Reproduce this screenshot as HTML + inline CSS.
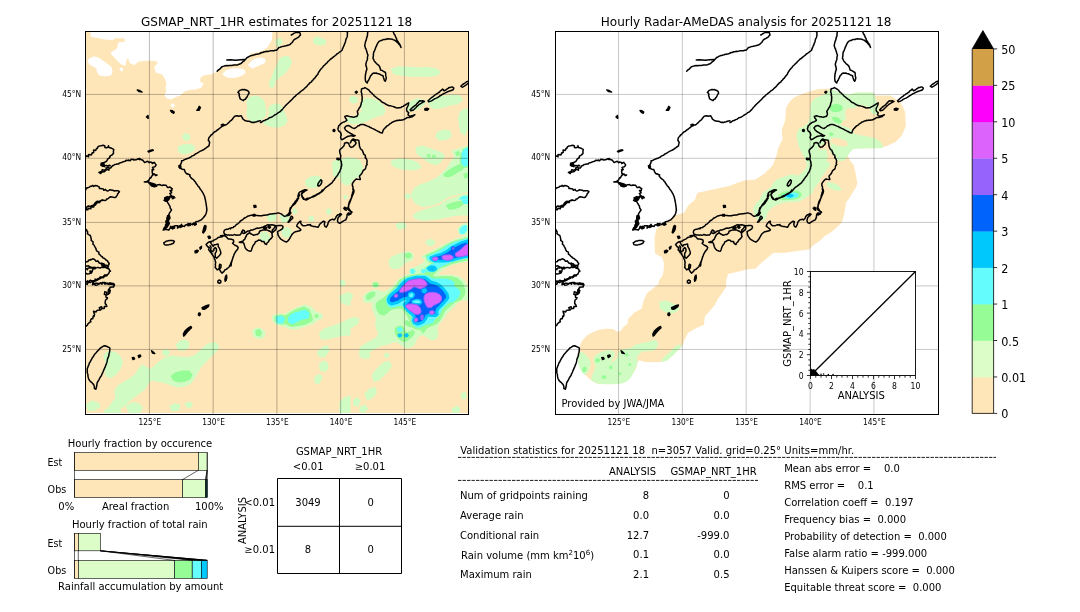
<!DOCTYPE html>
<html lang="en"><head><meta charset="utf-8"><title>GSMAP_NRT_1HR validation 20251121 18</title>
<style>html,body{margin:0;padding:0;background:#fff;}body{width:1080px;height:612px;overflow:hidden;}svg{display:block;font-family:'DejaVu Sans', 'Liberation Sans', sans-serif;fill:#000;}.cl{fill:none;stroke:#000;stroke-width:1.5;stroke-linejoin:round;stroke-linecap:round;}.cf{fill:#000;stroke:#000;stroke-width:1.3;stroke-linejoin:round;}.gl{stroke:#000;stroke-opacity:.28;stroke-width:1;fill:none;}.glr{stroke:#000;stroke-opacity:.22;stroke-width:1;fill:none;}.fr{fill:none;stroke:#000;stroke-width:1;}.th{fill:none;stroke:#000;stroke-width:.6;}</style></head><body>
<svg width="1080" height="612" viewBox="0 0 1080 612">
<rect width="1080" height="612" fill="#fff"/>
<defs>
<clipPath id="cr"><rect x="555.5" y="31.5" width="383.00" height="383.00"/></clipPath>
<clipPath id="cl"><rect x="85.5" y="31.5" width="383.00" height="383.00"/></clipPath>
<g id="coast"><path class="cl" d="M617.5 115.5L616.0 117.0L617.7 118.3ZM686.7 71.2L687.8 70.0L689.2 69.2L690.1 68.1L690.8 67.4L691.7 66.7L692.6 66.4L693.7 66.1L695.0 65.8L696.1 65.6L697.5 65.8L698.6 65.5L700.0 65.5L701.2 65.6L702.3 65.3L703.5 65.1L704.6 65.1L705.4 64.9L706.7 65.0L707.6 64.7L708.6 64.2L709.9 63.7L710.8 63.3L711.7 62.4L712.3 61.7L713.4 61.1L714.2 60.3L714.9 59.4L715.8 58.4L716.7 57.5L717.9 57.0L718.8 56.4L720.0 55.8L721.4 55.6L722.9 55.0L724.2 54.7L725.5 54.2L726.5 54.2L727.5 53.9L728.6 53.7L730.0 53.3M696.3 60.0L700.0 59.7L705.0 60.3L710.0 59.7L714.2 59.5M708.6 90.9L709.9 90.1L711.0 89.8L712.0 89.5L713.4 89.8L714.1 89.5L715.3 90.0L717.3 90.8L718.2 91.5L718.6 93.2L717.7 94.4L717.2 95.5L716.3 97.3L715.5 98.1L714.8 99.3L713.6 99.6L713.0 100.7L712.0 100.1L710.1 99.1L709.4 98.4L709.1 96.7L708.6 95.6L708.9 94.7L708.6 93.4L707.4 92.4ZM690.8 125.0L692.5 124.2L693.7 124.6L695.0 125.0L696.4 124.3L697.5 123.3L698.3 122.6L699.2 121.5L700.0 120.8L701.0 120.1L701.8 119.3L702.5 118.3L703.3 117.3L704.2 116.3L705.2 116.1L706.7 115.8L708.3 116.3L709.4 115.9L710.8 115.8L711.3 116.8L711.9 117.9L712.5 119.2L713.5 119.8L715.0 120.8L715.9 120.9L717.0 121.3L718.3 121.3L719.5 121.6L720.4 122.0L721.7 122.5L722.7 122.2L724.0 122.4L725.0 122.0L726.2 121.7L727.3 121.2L728.7 121.0L730.0 120.8M730.0 53.0L731.4 52.5L732.3 52.5L733.8 51.8L735.0 51.7L736.3 51.3L737.5 51.5L738.9 51.1L740.0 50.8L741.1 50.7L742.2 50.8L743.5 50.7L744.6 50.3L745.8 50.3L746.8 49.6L747.7 48.6L748.3 47.5L749.7 47.3L750.7 46.9L752.0 46.4L753.3 46.3L754.4 45.9L755.7 45.8L757.3 45.3L758.3 45.0L759.6 44.4L760.8 43.3L761.7 42.5L762.4 41.3L763.2 40.1L764.2 39.2L765.3 38.8L766.5 38.0L767.5 37.5L768.4 36.8L769.0 35.9L770.0 35.0L769.8 33.9L769.2 32.5L768.2 32.4L766.8 32.4L765.8 32.2L764.5 32.9L763.3 33.3L762.3 34.1L760.8 35.0M730.0 122.5L731.0 122.2L732.1 121.4L732.8 120.8L734.2 120.6L735.0 120.0L735.8 119.6L737.2 119.1L737.9 118.5L738.8 117.8L740.0 117.5L741.2 117.0L742.0 116.6L742.9 116.0L744.0 115.2L744.8 114.6L745.8 114.2L746.8 113.5L747.8 112.7L748.8 112.2L750.0 111.3L750.8 110.4L751.7 109.6L752.5 108.6L753.3 107.5L754.2 106.7L755.0 105.6L755.8 104.9L756.4 104.3L757.5 103.3L758.2 102.5L759.3 101.7L759.9 100.8L760.9 100.1L761.7 99.2L762.3 98.4L763.2 97.4L764.3 96.7L765.0 95.9L765.8 95.0L767.1 94.1L768.0 93.3L769.0 92.6L770.0 91.7L771.0 90.8L772.1 90.2L773.2 89.3L774.2 88.3L775.2 87.4L775.9 86.9L776.8 85.7L777.3 85.0L778.3 84.2L779.0 83.2L779.8 82.6L781.0 81.8L781.5 80.9L782.5 80.0L783.4 78.8L784.3 78.2L784.9 77.2L785.8 76.0L786.7 75.0L787.5 74.1L787.8 72.9L788.5 71.8L789.2 70.8L789.9 69.7L790.9 68.5L791.7 67.7L792.5 66.7L793.1 65.8L794.2 65.0L794.8 64.4L795.8 63.3L796.8 62.7L797.3 61.6L798.1 61.0L799.2 60.0L800.1 59.0L801.2 58.5L802.4 57.4L803.3 56.7L804.2 56.0L805.4 55.1L806.3 54.0L807.5 53.3L808.6 52.5L809.4 51.9L810.7 51.0L811.7 50.0L811.9 49.1L812.3 48.1L812.9 46.8L813.3 45.8L813.8 45.0L814.1 43.6L814.6 42.6L815.0 41.7L815.2 40.3L815.6 39.0L816.2 37.8L816.7 36.7L816.9 35.2L816.9 33.7L817.0 32.5L815.8 31.3M837.5 31.3L837.2 32.5L837.0 33.8L837.0 35.4L836.7 36.7L836.1 37.9L836.0 39.0L835.6 40.4L835.0 41.7L834.7 43.2L834.4 44.4L834.2 45.8L834.7 47.1L834.9 48.1L835.5 49.0L835.8 50.0L836.2 51.2L836.5 52.3L836.9 53.9L837.5 55.0L837.2 56.1L836.9 57.7L837.0 58.8L836.7 60.0L836.1 61.3L835.7 62.8L835.3 64.2L835.5 65.5L835.9 67.1L836.3 68.3L836.3 69.6L835.7 71.0L835.5 72.0L835.3 73.3L834.9 74.7L834.9 76.1L834.7 77.5L834.8 78.9L834.9 80.2L835.3 81.7L836.7 83.0L837.0 82.0L837.6 80.8L838.3 80.0L838.7 78.8L839.2 77.9L839.7 76.9L840.0 75.8L840.9 75.2L841.6 74.1L842.5 73.3L843.8 73.1L844.8 73.2L845.8 73.0L846.7 73.5L848.2 73.8L849.2 74.2L850.4 74.9L851.2 75.3L852.5 75.8L852.9 77.4L853.4 78.8L853.7 80.0L854.7 81.3L855.1 80.4L855.5 79.2L855.8 78.0L855.5 76.7L855.3 75.7L855.2 74.8L855.2 73.7L855.0 72.5L854.1 72.0L853.0 71.3L851.5 70.4L850.0 70.0L849.9 69.0L849.4 67.8L849.2 66.7L848.4 65.6L847.6 64.9L846.7 64.2L845.6 63.2L845.1 62.4L844.2 61.7L843.7 60.8L843.1 59.4L842.5 58.3L842.6 57.2L842.9 55.9L842.9 54.4L843.0 53.3L843.3 52.0L844.1 50.7L844.5 49.4L845.0 48.3L845.2 47.2L845.9 46.3L846.3 45.1L846.7 44.2L847.3 43.2L848.0 42.1L848.7 41.3L850.1 40.6L851.4 40.4L852.5 39.7L853.5 39.4L855.1 39.5L856.2 38.9L857.5 38.8L858.8 39.1L860.2 39.1L861.7 39.2L862.6 39.7L864.1 40.1L865.0 40.8L866.0 41.6L866.8 42.4L867.5 43.0L868.5 44.3L869.7 45.3L870.1 46.2L870.5 47.5L869.9 46.2L869.7 45.0L868.9 43.8L868.1 42.7L867.5 41.7L866.9 40.8L866.2 39.7L866.0 38.4L865.3 37.5L865.0 36.6L864.5 35.3L863.8 34.3L863.3 33.3L862.5 31.3M834.4 87.6L835.8 88.4L836.7 89.0L837.9 89.7L838.7 90.4L839.5 91.6L840.4 92.5L841.4 93.2L842.1 94.0L843.1 94.8L843.9 96.0L844.9 96.7L845.9 97.5L846.7 98.2L847.7 98.8L848.3 99.4L849.3 99.9L850.2 100.8L851.0 101.6L851.8 102.2L852.9 102.7L854.3 103.4L855.3 104.3L856.4 104.7L857.5 105.3L858.8 105.7L860.1 105.8L861.1 106.1L862.2 106.4L863.4 106.8L864.4 107.2L865.7 107.8L866.7 108.0L868.0 107.7L869.2 107.8L870.5 107.5L871.5 106.7L872.6 106.4L873.9 105.4L875.4 104.7L876.3 103.9L877.2 103.4L878.2 102.9L877.9 104.5L877.5 105.7L876.9 107.0L876.1 108.5L876.2 109.9L876.4 111.2L877.2 111.9L878.2 112.6L877.5 114.7L878.3 115.5L879.6 116.4L881.2 115.7L882.4 115.4L884.4 114.7L883.5 115.5L882.8 116.0L881.7 116.8L880.2 117.0L878.9 117.5L877.5 117.6L876.1 117.8L875.4 118.5L874.4 118.8L873.3 119.6L872.0 119.9L871.2 120.0L869.9 120.3L868.7 120.1L867.5 120.5L866.4 120.3L865.4 120.9L864.3 121.1L862.9 121.7L861.6 122.2L860.6 123.1L859.4 123.8L858.7 124.5L857.7 125.3L856.7 125.8L855.6 126.9L854.6 127.9L853.5 129.1L852.8 130.0L852.2 131.7L851.8 133.1L849.7 132.5L848.6 131.8L847.2 131.2L846.2 130.7L845.2 130.2L843.8 129.3L842.8 128.9L841.6 128.4L840.4 127.7L839.3 127.2L838.2 126.5L836.9 126.1L835.8 125.6L834.9 125.2L833.7 124.8L832.4 124.4L830.9 124.5L829.6 124.7L828.9 125.4L827.6 125.7L826.8 126.5L825.9 127.3L824.9 127.8L824.0 128.6L821.9 127.9L821.0 127.4L819.9 126.5L818.7 125.8L817.8 125.6L815.7 126.1L814.7 127.0L813.9 127.9L814.5 128.8L815.0 130.0L816.2 130.9L817.1 131.7L818.0 132.1L819.1 132.8L819.9 133.5L821.4 134.0L822.6 134.9L824.7 135.6L823.1 136.2L821.7 136.0L820.6 135.6L819.1 136.1L817.8 136.2L816.4 136.8L815.0 137.6L813.8 138.3L812.9 139.0L811.1 139.7L810.7 138.9L810.1 137.6L810.3 136.2L810.8 134.9L810.4 133.9L810.1 132.5L809.1 131.6L808.3 131.1L807.7 129.8L807.4 128.6L807.9 127.4L808.1 125.8L809.2 125.0L810.1 123.8L811.4 123.0L812.2 122.4L814.3 121.7L815.2 121.2L816.4 120.3L815.8 119.0L815.0 118.2L814.3 116.4L816.4 115.8L817.6 116.1L818.6 116.4L819.9 116.8L820.9 116.7L822.1 117.0L823.3 117.2L825.1 116.6L826.4 116.4L827.1 115.1L827.5 114.0L827.1 112.8L826.8 111.2L827.6 110.2L828.2 109.2L828.7 108.1L829.6 107.1L830.0 105.9L830.6 104.3L830.8 102.9L831.4 101.5L831.7 100.2L831.5 99.4L831.7 98.1L831.7 96.7L831.3 95.5L831.4 94.6L831.2 93.1L830.6 91.8L830.9 90.6L831.0 89.0L832.1 88.5L833.5 88.2ZM879.6 109.9L880.5 108.9L881.7 107.8L882.5 107.0L883.3 106.5L884.4 105.7L885.6 104.8L886.5 103.6L887.2 102.9L888.1 101.9L889.3 100.8L890.9 101.0L892.1 100.8L893.9 101.5L892.6 102.1L891.4 102.9L890.1 103.6L888.9 104.3L887.9 105.2L886.5 106.4L885.6 107.5L884.4 108.5L883.5 109.5L882.4 110.3L880.3 110.8ZM897.6 100.8L898.7 99.7L899.7 98.8L900.6 98.0L901.7 97.2L902.5 96.7L903.3 96.1L904.2 95.1L905.3 94.6L906.0 93.9L907.1 93.4L908.1 92.5L909.2 92.0L909.8 90.9L910.8 90.4L912.2 89.0L912.7 89.9L913.6 90.8L914.7 90.3L915.7 89.7L916.5 89.0L917.6 88.4L918.5 87.6L920.0 87.4L921.2 86.9L922.4 87.3L923.3 88.1L922.6 89.7L921.4 90.2L919.9 90.8L918.5 91.3L917.1 91.8L915.8 92.4L914.3 93.2L912.8 93.8L911.5 94.6L910.4 95.4L909.7 95.7L908.8 96.4L907.3 97.4L906.0 98.1L904.6 98.6L903.2 99.4L901.9 100.3L900.4 101.1L899.6 101.4L898.3 101.9ZM930.3 86.2L931.3 85.3L932.4 84.2L933.9 83.5L935.1 82.5L936.3 81.7L937.9 81.1L939.3 82.1L938.2 82.6L937.7 83.5L936.5 84.2L935.8 84.8L934.8 85.5L933.8 86.2L932.6 86.9L931.7 87.2ZM814.0 143.2L813.9 144.4L813.3 146.0L812.3 147.1L811.2 148.1L810.1 149.0L809.2 150.1L809.1 151.4L809.4 152.9L809.8 154.3L810.3 155.7L810.1 157.0L809.9 158.5L810.0 159.8L810.6 161.2L810.9 162.3L810.9 163.4L811.2 164.7L811.1 165.9L810.6 166.9L810.6 168.2L810.0 169.4L809.7 170.3L809.2 171.7L808.3 172.9L807.7 173.9L807.1 175.1L806.3 176.3L805.6 177.0L805.0 177.9L804.2 178.8L803.8 180.0L802.9 180.7L802.2 181.6L801.5 182.8L800.7 183.3L799.5 184.3L798.8 184.9L797.8 185.7L796.9 186.4L796.0 186.9L795.0 187.7L793.9 188.8L793.2 189.7L792.2 190.9L791.1 191.8L790.0 192.6L789.2 193.2L788.3 193.9L786.8 194.5L785.6 195.3L784.2 196.2L782.8 196.7L781.2 197.2L780.0 197.8L778.7 198.3L777.2 198.3L776.0 198.7L775.1 199.4L773.1 199.2L772.6 198.5L771.7 197.4L771.3 195.8L771.0 194.6L771.9 193.5L772.4 192.5L773.6 191.9L774.4 191.1L775.6 190.4L776.5 190.0L774.4 189.7L773.2 190.2L771.7 190.8L770.6 191.5L769.6 191.8L768.2 193.2L768.9 195.3L768.3 196.5L767.5 198.1L766.7 198.9L766.1 199.9L765.4 200.8L764.6 201.6L764.1 202.9L763.3 203.6L762.4 204.6L762.1 205.3L761.2 206.4L760.7 207.6L759.9 209.2L759.6 210.6L759.2 211.9L758.5 212.9L757.8 214.0L756.4 215.0M787.6 183.5L788.3 182.5L789.0 181.4L790.4 179.7L791.4 180.7L791.1 182.8L790.5 183.9L790.0 184.9L788.3 186.2L787.2 185.6ZM814.0 143.2L816.1 142.5L818.2 143.2L818.5 144.3L818.9 145.6L819.5 146.5L820.6 147.4L822.6 146.7L823.5 145.7L824.4 145.0L825.1 144.0L825.6 142.8L824.2 141.1L823.0 140.4L821.9 140.0L820.6 141.1L820.0 142.8L820.5 141.4L821.0 140.4L821.7 139.7L822.8 139.0L824.0 139.5L825.6 140.0L826.9 140.0L828.3 140.4L828.5 141.6L828.6 143.2L828.9 144.7L828.9 146.0L829.4 147.2L830.0 148.8L830.7 149.6L831.8 150.2L832.4 152.0L832.9 152.8L833.0 153.9L833.9 154.8L834.7 155.1L835.0 157.1L834.7 157.6L835.8 158.6L836.3 159.9L836.6 160.9L836.4 162.8L836.2 163.3L836.7 164.5L835.6 165.8L835.2 167.9L834.9 168.9L833.6 169.9L832.6 170.7L832.2 171.5L831.6 173.0L830.4 174.5L829.2 175.8L829.0 176.4L829.4 177.7L829.8 179.4L827.1 179.2L826.1 179.0L825.4 179.3L824.4 180.2L823.2 181.6L822.6 182.5L821.9 183.5L821.9 184.1L821.8 185.4L822.5 186.9L822.5 188.5L822.3 189.0L822.8 190.4L822.6 191.4L822.0 192.7L821.9 193.9L821.4 195.0L821.2 196.2L821.0 197.4L820.7 198.4L820.4 199.7L820.0 200.8L819.3 202.4L818.9 203.6L818.2 204.8L817.8 206.4L817.3 207.8L817.2 209.2L818.9 210.6L820.1 211.4L821.0 211.9L820.3 214.0L819.2 214.4L818.2 215.0M776.5 190.0L774.9 190.8L773.6 191.4L772.6 192.0L771.5 192.8L770.8 194.9L771.6 195.9L772.2 196.9L773.1 198.1L773.6 199.0L774.5 199.7L775.7 200.0L776.5 199.5L777.8 199.0L778.8 198.2L779.9 197.6L781.1 197.1L782.6 196.2L783.8 195.6L785.4 194.9L787.0 194.0L788.2 193.5L789.1 192.8L790.3 192.1L791.0 191.1L791.7 190.0M768.2 193.2L767.9 194.6L767.4 196.2L768.1 198.3L767.1 199.6L766.4 201.1L765.4 202.2L765.0 203.1L764.2 203.9L762.8 205.1L761.8 206.0L760.9 207.0L759.7 208.1L759.5 209.4L759.0 210.8L759.6 211.7L760.4 212.9L759.6 213.8L759.0 215.0L757.6 215.5L756.2 215.7L754.2 216.4L753.2 215.8L752.1 215.0L751.1 214.2L750.0 213.6L747.9 212.9L746.8 213.1L745.7 213.4L744.4 213.6L743.2 213.8L742.3 213.7L741.0 213.9L740.0 214.0L738.6 214.3L737.5 214.7L736.4 215.1L735.3 215.0L734.0 215.3L733.0 215.3L731.6 215.7L730.6 215.7L729.5 215.7L728.3 215.7L727.1 215.4L725.9 215.4L724.9 215.3L723.6 215.0L722.2 215.2L720.8 215.3L719.7 215.5L718.4 215.9L717.4 216.1L715.8 217.1L714.6 217.8L713.5 218.3L712.6 219.4L711.8 219.9L710.8 220.5L709.7 221.2L709.0 222.2L708.2 223.0L707.3 223.8L705.9 224.5L705.2 225.4L704.7 226.1L703.1 226.7L702.7 227.6L700.8 227.8L700.0 228.9M823.2 189.5L823.5 191.3L823.2 192.5L822.9 193.5L822.5 194.5L821.8 195.6L821.5 196.9L821.0 198.0L820.2 199.2L819.7 200.4L819.0 201.5L818.7 202.8L818.3 203.9L818.1 205.0L818.2 206.2L817.8 207.4L818.6 208.8L819.2 210.1L820.1 211.1L821.5 212.2L820.1 213.3L818.1 212.9L816.7 214.3L816.5 215.8L816.4 217.1L815.8 218.6L815.3 219.9L814.3 220.2L813.2 220.8L812.3 221.3L811.1 222.2L809.4 223.3L807.6 222.6L806.9 220.6L807.4 219.0L807.6 217.8L808.5 216.6L809.7 215.7L811.1 214.3L809.7 213.6L808.8 214.4L807.6 214.7L806.5 215.6L805.8 216.4L805.3 217.6L804.9 218.5L803.5 219.9L802.1 219.2L800.0 219.9L798.8 220.9L797.9 221.9L797.5 223.5L797.2 224.7L796.4 226.2L795.8 227.2L794.4 226.4L794.0 225.1L793.8 224.0L794.2 222.8L794.4 221.7L793.1 221.2L791.8 222.0L791.0 222.6L789.7 223.8L788.9 224.7L788.3 226.1L787.5 227.2L785.4 226.8L784.1 226.5L782.6 226.4L781.3 225.9L780.0 225.6M700.4 228.0L699.1 228.3L697.5 229.2L696.1 229.3L695.0 229.6L693.8 230.4L693.3 232.1L693.8 233.8L695.0 234.6L696.7 235.0L698.1 234.9L699.1 235.2L700.2 234.9L701.7 235.2L703.1 234.9L704.0 234.4L705.1 235.1L706.8 235.2L707.6 234.9L709.4 234.9L710.5 233.7L711.6 231.4L712.2 230.0L713.9 230.7L713.9 231.8L714.8 232.8L716.7 231.4L717.6 231.0L719.2 231.0L719.4 230.8L720.5 229.9L722.5 229.9L723.5 229.3L724.3 229.2L725.5 228.5L727.0 228.0L728.2 228.4L729.8 227.8L731.0 227.5L731.6 227.2L732.8 226.9L734.3 226.1L735.1 225.9L737.0 224.8L739.4 224.9L741.5 224.8L743.7 225.2L745.1 225.8L746.5 225.8L748.8 225.4L750.8 225.4L752.3 226.2L752.5 227.5L751.7 228.8L750.2 229.8L748.8 230.7L747.1 231.6L747.3 233.5L747.6 235.2L748.8 237.1L750.0 238.8L751.7 240.0L752.7 240.6L753.8 241.2L754.8 241.6L755.8 242.1L757.5 240.8L758.8 239.2L759.8 237.5L760.8 235.7L761.8 234.0L763.3 232.7L765.0 231.7L767.1 231.2L769.2 230.8L770.4 230.0L769.6 228.8L767.9 227.5L766.2 226.2L766.7 224.6L767.9 222.9L769.2 221.5L770.4 221.2L770.0 222.9L771.2 224.6L772.5 225.8L774.2 225.7L775.8 225.4L777.5 224.8L778.8 224.9L780.0 224.6M744.3 226.8L745.9 227.4L745.4 229.6L743.8 230.9L742.4 232.3L741.9 231.7L741.7 230.1L743.4 228.5ZM711.2 231.7L711.8 232.9L713.3 233.5L714.8 232.9M732.1 227.5L733.3 228.3L735.0 228.8L736.2 227.9L735.4 227.1L733.8 226.8ZM737.5 226.7L739.2 226.2L740.0 227.5L738.8 228.3ZM708.8 242.2L711.1 241.5L712.4 241.2L713.1 240.2L714.1 239.4L714.5 238.6L715.3 236.7L715.8 236.0L716.2 234.9L717.8 233.7L719.0 232.5L720.2 233.7L722.1 234.6L723.1 235.3L725.3 234.6L726.7 234.6L728.6 233.0L729.1 231.3L730.2 230.8L732.0 230.1L734.0 230.1L735.8 229.8L736.9 230.1L738.2 230.7L739.9 231.5L740.7 232.3L741.6 233.5L741.6 235.6L742.1 236.6L741.1 237.9L739.9 239.1L738.9 239.9L737.9 241.8L736.1 243.5L736.0 244.6L734.3 243.6L733.5 241.6L731.2 241.4L730.1 240.2L728.0 240.1L726.4 241.2L724.9 241.8L724.1 243.8L722.6 245.4L722.1 246.7L721.5 248.3L721.0 250.0L720.4 251.2L718.8 251.0L717.1 250.4L715.8 249.3L714.8 247.9L714.2 246.2L713.8 244.8L713.3 243.3L712.3 242.4L710.1 242.5ZM690.0 235.7L692.1 235.4L694.2 235.8L695.8 236.8L697.1 238.3L698.1 239.1L699.2 239.0L701.0 239.3L702.9 240.0L703.3 241.8L702.1 243.3L703.4 244.5L704.6 245.3L706.7 246.2L707.7 247.5L707.1 249.2L705.8 250.8L704.6 252.5L704.0 253.6L703.5 254.6L703.2 255.8L702.7 256.7L702.1 258.8L701.5 260.8L701.1 262.0L700.8 263.3L700.8 264.5L700.4 266.0M757.5 222.1L758.8 220.4L759.4 219.4L759.8 218.3L760.1 217.3L760.8 216.2L761.8 216.7L762.3 217.9L761.2 219.2L760.0 220.2L759.0 221.7L757.9 222.3ZM694.3 235.1L692.9 235.8L691.7 236.7L689.9 237.1L688.8 237.2L687.8 237.4L686.2 238.8L684.4 239.7L683.4 240.0L682.5 241.0L681.1 241.3L680.3 242.1L678.7 241.8L677.1 242.9L675.6 244.6L677.2 246.8L678.3 247.3L678.8 247.4L678.1 249.8L679.9 251.7L679.9 252.6L681.6 253.2L681.3 254.0L681.9 254.9L683.7 257.5L683.9 258.9L684.7 259.9L684.7 261.1L685.2 262.3L685.0 263.3L684.8 264.9L685.1 265.9L684.6 267.2L686.7 269.9L688.2 269.0L688.8 268.1L688.8 266.1L689.2 264.2L690.6 264.9L690.3 267.6L689.3 268.6L688.9 269.4L690.5 272.0L691.5 273.1L692.9 271.9L693.8 270.9L694.3 269.9L696.1 269.2L696.9 268.3L698.1 267.5L698.8 266.6L699.4 265.3L700.1 264.2L700.3 263.1L700.8 262.2L701.5 260.6L701.9 259.2M680.0 241.5L680.5 243.3L681.4 244.7L682.7 246.3L683.8 244.8L685.5 244.6L687.6 244.1L687.8 246.6L688.8 248.1L689.0 248.5L689.6 250.3L690.1 251.6L690.3 253.8L690.3 253.6L688.9 255.5L688.2 256.2L686.2 258.3L684.9 257.1L684.6 254.1L685.1 252.6L685.8 251.7L686.0 250.8L685.8 248.5L684.7 247.5L683.1 249.4L683.4 250.5L682.6 251.1L680.6 251.4L680.2 249.4L680.6 247.3L679.7 245.8M633.2 242.8L634.4 242.2L635.3 241.4L636.5 241.0L637.6 240.9L638.8 240.4L639.9 240.5L641.1 240.6L642.2 240.4L643.9 241.4L642.9 243.2L641.7 243.7L640.1 244.4L638.8 244.6L637.8 244.9L636.7 245.1L635.4 245.0L633.9 244.6ZM688.8 280.0L690.3 280.8L690.3 282.5L688.8 283.3L687.4 282.5L687.4 280.8ZM637.1 215.7L638.0 217.2L636.8 217.3L636.7 219.8L635.7 221.4L635.3 221.1L636.1 224.0L634.9 225.0L636.0 225.1L634.8 227.2L633.8 227.6L632.7 230.1L635.2 229.2L635.1 229.5L637.9 229.7L638.2 230.1L639.6 228.2L639.7 227.7L640.2 226.2L640.9 228.1L641.9 228.7L643.4 227.5L644.3 225.8L647.4 225.8L647.0 228.1L649.8 226.1L650.3 225.8L651.1 224.4L651.0 225.8L654.1 226.4L654.9 224.9L656.2 224.7L657.5 224.8L658.2 224.6L657.7 223.5L658.3 224.7L659.4 223.5L661.8 224.7L663.1 223.3L664.4 225.0L665.8 224.4L665.5 223.4L665.1 221.9L666.7 221.4L667.9 221.2L669.3 220.5L670.7 219.9L671.6 219.0L672.8 217.8L673.4 216.9L674.2 216.1L674.9 215.0M554.2 157.2L555.5 156.6L556.2 155.8L558.1 156.8L557.9 154.8L558.8 154.6L560.9 154.9L561.7 152.7L562.5 152.9L563.2 152.4L563.1 150.1L565.2 150.5L566.0 148.5L566.8 148.4L567.4 146.9L569.0 145.9L570.6 145.8L571.3 145.6L573.2 145.3L574.4 145.9L574.4 147.4L575.9 147.7L578.1 147.0L577.9 145.7L578.5 147.6L580.4 148.1L581.2 148.3L583.2 149.3L583.2 150.1L582.9 151.3L583.0 153.4L581.3 155.1L580.5 155.4L579.3 156.3L579.4 157.6L577.2 159.0L576.4 160.8L575.0 161.9L573.9 162.6L573.9 162.3L572.5 163.0L571.1 163.4L572.0 165.8L573.8 166.7L573.6 165.8L576.4 165.6L577.2 165.9L578.8 165.3L579.7 165.7L577.5 165.8L577.6 167.4L575.5 167.9L575.7 168.3L575.8 169.9L573.8 171.8L573.3 171.7L570.8 172.2L570.3 173.6L568.4 172.4L569.6 171.9L571.4 171.2L571.7 169.8L574.0 170.2L575.4 169.4L576.9 169.5L578.4 170.1L578.6 167.9L580.2 168.0L581.0 167.0L580.7 167.2L582.2 165.4L583.3 165.4L583.9 164.6L585.7 164.2L586.2 164.0L588.4 163.9L588.6 163.1L590.1 162.7L590.9 162.5L593.8 161.4L594.5 161.3L595.9 160.2L598.0 160.4L598.1 159.9L599.6 160.8L600.6 159.3L603.1 159.4L603.3 160.0L605.7 159.8L607.3 158.8L609.0 159.6L608.9 158.4L610.6 159.7L611.2 159.8L612.3 160.3L614.1 162.4L614.5 162.4L617.2 161.3L618.7 162.7L619.2 162.0L621.5 162.6L621.8 163.5L623.7 162.3L623.8 162.4L625.6 164.9L625.3 165.8L624.3 166.7L622.0 167.4L623.2 169.7L621.5 169.7L622.0 170.8L621.6 171.3L622.1 174.3L622.4 173.7L625.5 175.2L626.6 175.0L625.2 175.7L624.2 174.1L622.5 174.8L621.6 175.7L620.2 178.0L619.7 177.7L618.8 179.3L618.7 179.9L616.3 181.6L613.8 181.9L616.7 181.9L616.4 182.0L618.1 181.5L618.0 182.4L619.0 183.8L620.0 184.2L620.7 185.5L623.6 186.0L624.5 186.4L625.1 185.9L627.0 184.8L628.7 184.8L629.5 184.5L630.4 185.2L631.9 185.5L632.3 185.1L635.5 185.2L636.2 186.1L637.0 187.5L638.5 187.4L639.2 186.9L641.8 188.8L641.4 189.3L641.2 190.8L639.5 190.4L641.1 192.9L639.3 193.4L640.5 195.2L641.9 196.6L643.4 196.6L644.3 197.7L643.3 197.7L642.3 198.8L641.1 197.0L639.7 196.2L638.1 197.4L636.1 198.2L635.2 197.7L634.6 199.4L633.6 200.4L635.3 201.3L636.9 201.6L637.3 202.9L638.0 203.8L639.5 206.3L639.6 206.8L639.6 207.9L641.0 210.0M694.4 125.0L692.9 125.7L691.7 126.4L690.8 126.9L690.0 127.7L688.9 128.5L688.1 129.3L687.2 129.7L686.1 130.6L685.2 131.4L684.0 131.7L683.3 132.6L682.4 133.4L681.7 134.3L680.6 135.0L679.5 136.5L678.5 137.5L678.1 138.9L677.8 140.3L678.6 141.3L679.2 142.4L678.9 143.6L678.6 144.9L678.5 145.8L677.6 146.5L676.4 147.2L675.7 147.9L674.7 148.5L673.9 149.3L672.9 149.7L672.0 150.3L670.6 150.9L669.4 151.4L668.5 152.0L667.1 152.9L666.0 153.5L664.7 154.1L663.9 155.0L662.5 155.6L661.3 156.1L660.4 157.0L659.0 157.6L658.0 158.3L656.9 158.5L655.6 159.0L654.0 159.6L652.8 160.4L651.1 160.8L651.0 162.7L649.9 164.9L650.0 164.3L648.7 167.3L649.4 168.1L649.7 168.3L652.8 169.6L653.8 169.5L654.4 171.2L654.8 172.3L656.3 174.0L657.3 173.7L657.3 174.0L659.6 174.9L659.1 175.9L660.9 178.2L662.0 179.1L662.4 179.2L663.5 180.2L664.2 181.2L665.1 182.3L665.7 183.5L666.7 184.7L667.2 185.8L668.1 186.5L668.8 187.5L669.4 188.4L669.9 189.5L670.8 190.3L671.6 191.6L672.2 192.6L672.9 193.8L673.3 194.7L674.0 196.2L674.3 197.2L674.5 198.6L674.9 199.5L675.0 200.7L675.3 202.1L675.5 203.2L675.7 204.2L675.7 205.3L676.1 206.4L676.1 207.6L676.2 209.0L676.4 210.0M554.2 190.3L555.2 190.1L555.8 188.3L557.1 187.7L559.1 187.1L559.8 186.3L561.2 186.2L562.3 185.4L563.2 186.4L565.0 185.5L566.1 185.7L567.1 186.0L568.8 187.2L568.9 188.5L570.1 188.5L572.8 189.0L573.3 190.3L575.1 189.3L575.4 190.4L576.6 190.9L577.5 191.0L579.2 189.8L580.5 189.9L582.3 190.3L584.0 191.1L584.3 190.7L585.8 190.8L587.4 190.7L588.9 191.7L587.7 193.2L587.0 194.0L587.1 194.6L586.6 195.4L585.2 197.3L584.4 197.5L582.7 197.2L581.7 196.9L580.2 196.7L578.8 197.5L577.1 199.0L576.0 199.1L575.7 200.1L574.3 200.6L571.6 200.0L570.0 201.0L569.7 200.8L567.9 201.7L567.0 201.3L565.9 201.8L564.8 202.6L563.2 204.9L563.6 205.6L561.7 205.5L559.8 206.4L558.0 206.0L556.5 206.6L556.5 207.1L555.8 208.9L554.2 210.0M641.0 210.0L640.3 211.1L638.9 213.2L638.1 215.0M676.4 210.0L675.7 213.2L674.9 215.0M554.2 210.0L556.6 209.6L557.2 209.8L558.1 208.2L560.3 208.8L560.7 206.9L563.1 207.1L563.1 205.8L563.9 205.7L564.8 204.9L566.7 202.8L567.7 202.6L569.2 202.6L569.8 200.7L571.9 200.6L572.2 200.0M554.2 228.5L556.3 230.2L556.7 231.5L557.2 231.9L556.9 233.7L558.2 234.7L559.8 235.5L560.2 236.7L560.8 239.4L560.7 240.4L562.6 241.9L562.6 242.6L562.4 244.2L563.7 245.3L564.3 246.6L565.6 248.9L565.5 249.6L566.7 251.3L568.4 252.2L568.4 254.1L569.2 254.6L570.6 256.1L572.0 257.0L572.4 257.9L574.1 258.5L575.5 260.0L575.4 259.9L576.8 260.6L577.4 261.8L578.7 263.5L578.4 264.6L577.1 265.8L576.2 265.8L574.3 265.0L574.4 265.7L571.5 265.0L571.6 264.0L568.8 263.0L567.9 261.7L567.2 260.8L566.9 261.3L565.5 261.2L564.1 259.5L562.1 258.8L560.3 260.0L560.3 259.4L557.8 260.5L557.5 261.6L555.0 262.0L554.2 262.2M570.7 263.6L571.2 263.1L573.5 263.9L574.1 264.9L575.5 266.1L576.3 265.3L577.9 266.9L576.9 267.7L575.7 267.6L573.6 266.4L571.6 265.4L571.0 264.3ZM554.2 269.4L555.9 268.6L556.8 269.8L557.6 268.0L559.6 268.0L561.5 267.4L563.1 268.7L564.4 267.8L564.9 268.1L566.7 267.6L567.8 267.5L569.7 268.1L571.5 266.8L571.9 267.4L573.7 267.4L574.5 267.1L576.1 268.0L578.6 269.0L579.1 270.4L580.0 271.0L579.0 271.5L578.1 273.8L576.4 274.8L576.5 275.7L574.6 276.0L572.7 277.7L570.7 277.2L570.4 278.4L568.0 279.4L567.1 280.0L565.8 280.6L564.7 281.1L562.9 281.7L563.2 283.4L563.2 284.3L564.9 283.3L566.7 283.3L568.0 283.4L569.0 283.3L570.2 283.1L572.1 282.4L573.0 282.5L574.2 284.0L575.5 283.9L577.1 283.1L578.6 284.4L578.3 284.4L579.9 283.0L582.0 283.4L583.1 283.5L584.0 285.0M554.2 266.4L556.7 265.9L557.9 265.8L559.6 266.8L560.6 267.4L562.2 268.6L562.1 270.3L561.7 271.6L560.8 273.1L558.5 273.8L556.7 274.1L555.9 273.6L554.2 272.5M554.2 284.4L554.6 283.8L556.7 284.3L557.7 282.3L558.5 282.0L559.6 282.7L560.0 282.4L562.1 280.8L562.4 280.7L564.7 280.5L564.6 279.0L565.8 279.8L567.1 278.7L568.4 278.4L569.7 276.9L571.7 277.0L572.5 276.9L574.1 275.1L574.3 274.9L575.7 275.0M554.2 282.2L555.3 282.6L556.9 280.9L557.0 281.9L558.9 280.9L559.7 280.3L561.5 281.0L562.7 281.8L562.5 281.7L562.0 284.7L564.0 283.9L564.7 285.2L566.6 285.1L567.9 284.2L568.4 284.2L570.1 282.9L571.5 284.2L571.9 282.5L574.1 282.5L574.6 282.6L575.8 283.1L577.4 284.1L579.3 282.8L580.0 284.3L581.9 284.5L582.9 284.7L583.8 284.6L583.1 287.0L582.0 286.9L579.5 287.3L579.6 287.9L578.7 288.6L579.0 290.1L578.7 291.4L578.3 293.9L577.7 294.2L576.3 294.7L575.4 295.2L575.6 297.5L577.0 297.8L576.5 299.0L575.1 300.0L574.7 301.8L574.7 303.6L575.7 304.6L576.4 306.4L573.9 306.4L573.7 308.5L572.0 308.5L570.7 309.0L569.4 309.3L570.1 310.0L566.9 310.3L565.7 311.4L565.6 312.0L563.0 311.3L563.7 313.8L564.1 314.1L563.6 316.4L562.7 316.0L562.3 318.7L560.8 318.8L559.9 320.5L560.4 321.8L559.4 322.1L557.3 324.0L557.2 324.5L556.6 325.4L554.8 326.7L554.7 328.1L554.2 329.2M574.3 291.7L576.4 292.4L575.7 295.1L573.9 294.4ZM568.8 307.6L571.1 306.7L571.9 308.6L569.7 309.7ZM574.7 345.8L575.8 346.3L577.1 346.8L578.3 347.4L579.4 348.2L579.3 349.4L579.2 351.0L579.0 352.4L578.5 353.8L578.5 354.7L578.1 356.2L577.8 357.2L577.3 358.2L576.9 359.4L576.7 360.7L576.5 361.7L576.2 363.0L575.7 364.2L575.2 365.4L574.8 366.6L574.3 367.6L573.9 368.6L573.5 369.7L572.9 370.8L572.5 372.0L572.1 372.8L571.5 373.9L571.0 375.5L570.1 376.7L569.4 377.8L568.8 379.2L568.1 380.5L567.4 381.5L566.7 382.7L566.4 384.3L566.2 385.8L566.0 387.1L565.3 389.2L563.9 388.5L563.9 387.0L563.6 385.7L563.1 384.5L562.2 383.6L561.4 382.6L560.4 381.9L559.3 380.7L558.6 379.7L557.9 378.2L557.6 376.7L557.4 375.4L557.4 374.3L556.9 373.2L556.7 371.9L556.9 371.1L556.7 369.7L556.8 368.4L557.4 367.3L557.6 366.2L558.3 365.1L558.6 363.9L559.0 362.8L559.8 361.7L560.2 360.9L560.8 359.7L561.3 358.8L561.9 357.7L562.8 356.5L563.3 355.8L563.8 354.7L564.6 353.8L565.6 352.8L566.7 351.4L567.9 350.3L568.8 349.2L569.7 348.2L570.8 347.5L571.8 346.8L572.9 346.1Z"/><path class="cf" d="M606.7 90.0L609.2 90.5L611.7 92.0L608.7 91.7ZM640.0 110.5L642.0 110.7L643.8 112.0L643.3 113.3L641.3 112.3ZM668.7 106.3L670.0 107.5L668.7 110.3L666.2 110.3L667.8 108.3ZM803.5 129.3L804.6 130.3L803.9 131.7L802.5 131.1L802.5 130.0ZM825.8 91.1L826.9 92.1L825.8 93.2L824.7 92.2ZM894.2 108.9L896.2 108.2L898.3 108.9L896.9 110.3L894.4 110.1ZM806.4 158.2L808.5 158.5L809.4 159.4L807.8 160.0L806.4 159.4ZM813.1 208.1L815.0 208.6L815.8 210.3L814.2 209.7ZM722.6 214.4L724.6 214.4L724.6 216.1L722.6 216.1ZM723.3 205.3L725.3 205.3L725.6 207.2L723.6 207.5ZM814.2 207.2L816.1 208.2L815.1 209.6ZM673.5 226.8L674.4 225.4L675.6 226.1L675.3 228.9L674.2 231.4L672.8 233.1L672.1 232.4L672.8 229.6ZM677.4 236.5L679.4 236.2L680.0 237.9L678.3 238.6ZM664.4 251.1L666.5 250.0L667.9 250.8L666.5 252.5L664.7 252.8ZM669.3 247.6L671.1 246.2L670.8 248.3L669.7 249.4ZM695.0 276.1L696.1 275.0L696.4 277.5L695.7 280.3L694.7 281.4L694.3 279.6ZM633.9 228.2L635.6 224.7L636.7 227.2L635.0 228.9ZM640.8 227.2L642.9 226.1L644.3 227.8L642.2 228.9ZM648.5 226.1L650.8 225.0L652.2 226.4L649.9 227.5ZM656.4 224.4L658.9 223.6L660.0 225.3L657.5 225.8ZM662.4 223.6L664.7 222.6L665.8 224.4L663.8 225.0ZM570.6 163.2L572.9 162.8L573.9 165.0L571.9 166.1L570.3 165.3ZM617.4 151.4L619.4 150.4L622.2 149.7L622.9 150.3L620.1 151.4L618.1 152.1ZM619.4 182.6L622.2 183.3L625.0 184.4L626.4 186.1L623.6 186.9L620.8 185.8ZM634.0 197.9L636.8 196.5L639.6 197.5L638.2 200.0L635.4 200.7ZM648.3 165.6L650.0 165.3L650.6 167.2L648.9 167.8ZM636.8 216.7L638.9 215.3L639.6 218.1L637.8 220.8L638.9 223.6L637.2 226.4L635.0 228.5L633.3 229.4L635.0 227.1L635.8 223.6L636.4 220.1ZM563.2 267.1L564.9 267.4L564.6 268.8L563.2 268.5ZM559.4 270.8L561.1 271.1L560.8 272.5L559.4 272.2ZM577.8 289.6L579.9 290.3L579.2 293.1L577.5 293.8ZM671.5 307.6L673.6 306.7L676.4 305.3L678.5 304.9L677.8 306.7L675.7 308.3L673.6 309.4L671.9 309.0ZM668.1 313.2L669.4 312.8L670.0 314.6L668.9 315.8L667.8 315.0ZM652.8 334.0L654.2 331.2L656.2 329.2L658.3 327.5L660.4 326.4L661.1 327.8L659.4 329.4L657.6 331.2L655.8 333.3L654.2 335.4L653.1 336.1ZM621.1 350.7L622.9 352.1L624.3 353.5L621.9 353.1ZM607.6 355.6L609.7 354.9L610.4 356.2L608.3 357.6ZM601.7 357.6L603.5 357.4L604.2 359.0L602.5 359.7Z"/></g>
</defs>
<rect x="85.5" y="31.5" width="383.00" height="383.00" fill="#ffe6b9"/>
<rect x="555.5" y="31.5" width="383.00" height="383.00" fill="#fff"/>
<g clip-path="url(#cr)">
<path d="M790.0 102.2L794.2 98.1L803.9 93.9L817.8 89.7L830.3 89.4L831.0 90.0L836.0 92.0L842.0 95.0L848.0 97.0L853.0 94.0L856.7 93.2L873.3 93.2L874.7 96.0L890.0 96.0L899.7 102.2L904.6 112.0L905.3 125.8L901.1 135.6L895.6 141.1L887.2 145.3L880.3 147.4L852.5 148.0L847.0 155.0L849.0 160.0L853.3 165.6L855.6 176.7L856.7 183.0L855.6 186.7L852.2 192.2L848.9 197.8L845.6 202.2L844.4 208.9L843.3 215.6L841.1 222.2L835.6 227.8L830.0 232.2L824.4 235.6L820.0 240.0L813.3 244.4L808.9 248.9L795.6 250.7L784.4 252.2L773.3 252.2L767.8 256.7L761.1 262.2L755.6 267.8L746.7 268.9L737.8 271.1L727.8 273.3L725.6 280.0L725.6 286.7L722.2 292.2L717.8 297.8L714.4 304.4L708.9 311.1L704.4 316.0L703.3 324.4L695.6 327.8L687.8 332.2L683.9 339.4L682.5 344.3L679.7 347.8L675.6 351.9L671.4 356.1L667.2 359.6L661.7 361.4L653.3 361.7L645.0 361.4L639.4 359.6L636.7 361.7L636.4 365.8L634.6 370.0L631.8 374.2L628.3 378.3L624.2 381.1L618.6 383.2L611.7 383.6L604.7 383.6L597.8 383.2L592.2 380.4L588.1 376.9L584.6 373.5L581.8 368.6L579.7 363.1L578.6 357.5L579.0 352.6L580.4 347.8L581.1 343.6L583.9 339.4L588.1 335.3L593.6 332.5L599.2 330.4L606.1 329.4L613.1 329.7L617.2 332.5L621.4 331.1L624.2 326.9L627.8 324.4L628.9 318.9L634.4 313.3L642.2 308.9L644.4 300.0L647.8 293.3L653.3 288.9L658.9 284.4L660.0 280.0L663.3 275.6L664.4 268.9L664.4 262.2L662.2 256.7L655.6 253.3L655.1 237.8L656.7 230.0L662.2 224.4L668.9 221.1L676.7 215.6L684.4 213.3L688.9 205.6L695.6 200.0L697.8 193.3L713.3 190.0L728.9 186.7L737.8 183.3L744.4 181.1L755.6 180.0L764.4 174.4L773.3 165.6L776.7 156.7L778.9 147.8L783.3 138.9L782.2 130.0L785.6 121.1L786.7 107.8Z" fill="#ffe6b9" stroke="#ffe6b9" stroke-width="1.2" stroke-linejoin="round"/>
<path d="M811.7 103.1L815.8 98.2L825.6 94.7L830.4 89.9L835.3 91.2L842.2 93.3L847.8 95.4L853.3 94.0L856.1 93.1L872.8 93.1L874.2 96.1L876.9 103.1L878.3 105.8L877.6 110.7L875.6 114.2L872.1 112.8L870.0 108.6L867.2 105.8L861.7 104.4L857.5 105.8L853.3 107.9L847.8 107.2L845.0 110.0L844.3 114.2L845.7 118.3L842.2 121.1L839.4 124.6L842.2 126.7L847.8 128.1L851.9 130.8L853.3 133.6L858.9 135.7L867.2 137.1L875.6 139.2L881.1 143.3L882.5 147.5L853.3 148.2L847.8 153.1L846.4 157.2L843.6 160.0L839.4 160.7L835.3 157.2L832.5 153.1L831.1 147.5L831.8 143.3L831.1 140.6L825.6 139.2L822.8 143.3L818.6 147.5L817.2 151.7L815.8 157.2L817.2 162.8L820.0 166.9L821.4 170.0L808.9 170.0L807.5 164.2L804.7 157.2L801.9 151.7L799.2 146.1L797.8 140.6L797.1 135.0L799.2 129.4L804.7 126.7L808.9 122.5L810.3 116.9L811.0 110.0Z" fill="#d0fcc4" stroke="#d0fcc4" stroke-width="1.2" stroke-linejoin="round"/>
<path d="M831.1 139.2L836.7 138.5L842.2 139.9L846.4 141.9L847.1 145.4L842.2 146.1L836.7 144.7L832.5 142.6Z" fill="#ffe6b9" stroke="#ffe6b9" stroke-width="1.2" stroke-linejoin="round"/>
<path d="M831.1 105.8L836.7 104.4L841.5 105.8L842.2 109.3L838.1 111.4L833.2 111.4L830.4 109.3Z" fill="#96fc96" stroke="#96fc96" stroke-width="1.2" stroke-linejoin="round"/>
<path d="M832.5 117.6L836.7 117.6L840.8 120.4L841.5 122.5L838.1 122.8L833.9 120.8Z" fill="#96fc96" stroke="#96fc96" stroke-width="1.2" stroke-linejoin="round"/>
<path d="M829.4 133.6L831.8 132.9L833.2 134.3L831.1 135.7Z" fill="#96fc96" stroke="#96fc96" stroke-width="1.2" stroke-linejoin="round"/>
<path d="M802.2 150.0L825.8 150.0L827.2 155.6L825.8 161.1L830.0 163.9L827.2 168.1L824.4 172.2L820.3 177.8L818.9 181.9L816.1 184.7L813.3 188.9L811.9 193.1L807.8 195.8L803.6 198.6L799.4 200.7L795.3 201.4L789.7 201.7L784.2 202.1L778.6 203.5L774.4 205.6L770.3 208.3L767.5 211.8L766.1 215.3L764.7 218.8L761.9 220.8L757.8 219.4L755.0 215.3L753.6 211.1L754.3 206.9L757.1 203.5L759.9 200.0L761.9 195.8L764.0 192.4L767.5 190.3L771.7 187.5L773.8 183.3L777.2 179.9L782.8 177.8L788.3 175.7L793.9 175.0L798.1 176.4L802.2 173.6L805.7 169.4L807.8 165.3L809.2 161.1L807.8 156.9L805.0 154.2Z" fill="#d0fcc4" stroke="#d0fcc4" stroke-width="1.2" stroke-linejoin="round"/>
<path d="M778.6 195.8L782.8 192.4L788.3 191.7L793.9 191.0L798.8 191.7L801.5 194.4L799.4 197.2L795.3 198.6L789.7 199.3L784.2 199.7L780.0 198.6Z" fill="#96fc96" stroke="#96fc96" stroke-width="1.2" stroke-linejoin="round"/>
<path d="M783.5 195.1L788.3 193.3L793.9 193.1L798.1 194.2L797.4 196.5L792.5 197.9L787.6 197.9L784.2 197.2Z" fill="#64fcfc" stroke="#64fcfc" stroke-width="1.2" stroke-linejoin="round"/>
<path d="M786.9 195.1L791.1 194.4L793.2 195.6L791.1 196.9L787.6 196.7Z" fill="#00c8fc" stroke="#00c8fc" stroke-width="1.2" stroke-linejoin="round"/>
<path d="M827.2 182.6L832.8 183.3L838.3 186.1L841.1 189.6L836.9 190.3L831.4 188.2L827.9 186.1Z" fill="#d0fcc4" stroke="#d0fcc4" stroke-width="1.2" stroke-linejoin="round"/>
<path d="M830.0 150.0L850.8 150.0L848.1 154.2L843.9 156.9L838.3 155.6L832.8 154.2Z" fill="#d0fcc4" stroke="#d0fcc4" stroke-width="1.2" stroke-linejoin="round"/>
<path d="M660.0 302.2L665.6 301.1L671.1 303.3L676.7 305.6L678.9 308.9L674.4 312.2L670.0 313.3L664.4 311.1L660.0 307.8Z" fill="#d0fcc4" stroke="#d0fcc4" stroke-width="1.2" stroke-linejoin="round"/>
<path d="M579.2 353.3L581.7 352.5L584.2 354.2L586.7 356.7L588.8 359.6L590.0 362.5L589.6 365.8L588.3 369.2L586.7 372.5L585.0 374.2L582.9 372.5L580.8 369.2L579.2 365.0L578.3 360.8L578.5 356.7Z" fill="#d0fcc4" stroke="#d0fcc4" stroke-width="1.2" stroke-linejoin="round"/>
<path d="M592.5 375.8L593.8 373.3L595.0 370.0L596.2 366.7L595.4 364.2L594.6 361.7L594.2 359.2L595.0 356.7L597.5 354.6L600.8 352.9L604.2 351.7L608.3 350.8L611.7 351.2L613.8 352.5L614.2 355.0L612.9 357.5L611.7 360.0L610.4 362.1L611.7 363.3L614.2 361.7L616.7 359.2L618.3 356.7L618.3 354.2L619.2 351.7L621.7 350.0L625.0 349.6L628.3 349.2L631.7 347.9L634.2 346.2L636.7 345.0L640.0 344.2L643.3 343.3L646.7 342.9L650.0 341.7L653.3 340.8L656.2 341.2L657.5 343.3L657.1 345.8L655.8 348.3L653.3 350.0L650.0 350.4L646.7 350.7L643.3 350.8L640.8 351.7L639.2 353.3L637.5 355.4L635.8 357.5L637.1 360.0L636.7 363.3L635.4 366.7L634.2 370.0L632.5 373.3L630.8 376.7L628.3 379.6L625.0 381.7L621.7 382.9L616.7 383.3L611.7 383.3L606.7 383.5L601.7 383.3L597.5 382.9L594.2 381.2L591.7 379.2Z" fill="#d0fcc4" stroke="#d0fcc4" stroke-width="1.2" stroke-linejoin="round"/>
<path d="M583.3 367.9L585.4 367.1L586.2 369.2L585.4 371.2L583.3 371.7L582.9 369.6Z" fill="#96fc96" stroke="#96fc96" stroke-width="1.2" stroke-linejoin="round"/>
<path d="M596.0 359.3L598.2 358.8L599.5 360.0L599.0 361.7L597.0 362.2L595.7 361.0Z" fill="#96fc96" stroke="#96fc96" stroke-width="1.2" stroke-linejoin="round"/>
<path d="M609.6 366.5L611.2 366.2L612.1 367.9L610.4 368.8Z" fill="#96fc96" stroke="#96fc96" stroke-width="1.2" stroke-linejoin="round"/>
<path d="M602.1 376.2L605.4 376.0L605.8 377.5L603.8 378.8L602.3 377.7Z" fill="#96fc96" stroke="#96fc96" stroke-width="1.2" stroke-linejoin="round"/>
<path d="M628.8 363.8L630.4 363.8L630.7 365.0L629.2 365.4Z" fill="#96fc96" stroke="#96fc96" stroke-width="1.2" stroke-linejoin="round"/>
<path d="M619.2 373.2L620.7 373.2L620.8 374.3L619.5 374.5Z" fill="#96fc96" stroke="#96fc96" stroke-width="1.2" stroke-linejoin="round"/>
<path d="M625.4 354.2L627.5 354.0L627.9 355.4L626.0 355.8Z" fill="#96fc96" stroke="#96fc96" stroke-width="1.2" stroke-linejoin="round"/>
<path d="M667.2 359.6L671.4 356.1L675.6 351.9L679.7 347.8L681.1 345.7L678.3 345.0L674.2 348.5L670.0 352.6L665.8 356.4L662.4 359.6L661.7 361.4Z" fill="#d0fcc4" stroke="#d0fcc4" stroke-width="1.2" stroke-linejoin="round"/>
</g>
<g clip-path="url(#cl)">
<path d="M85.5 31.0L91.2 31.8L91.2 36.2L97.5 37.5L105.0 38.8L112.5 39.5L115.0 37.5L125.0 38.0L125.5 42.0L118.8 43.0L117.5 48.8L111.2 53.0L115.0 57.5L121.2 63.8L125.0 65.0L126.2 58.8L128.8 57.5L130.0 62.5L133.8 64.5L138.8 60.8L147.5 60.0L156.2 60.5L158.8 63.0L155.0 67.0L156.2 72.0L162.5 73.8L165.5 78.8L167.0 83.0L166.2 87.5L167.0 91.2L165.0 95.0L167.5 98.0L171.2 98.8L176.2 96.2L180.0 95.0L183.8 91.2L188.8 89.5L195.0 88.8L200.5 87.5L203.0 83.8L199.5 82.0L200.0 77.0L204.5 74.5L211.2 73.8L215.0 72.0L220.0 68.0L225.0 65.5L230.0 63.8L240.0 62.5L247.0 58.8L250.0 53.0L256.2 52.0L262.5 50.0L267.5 46.2L271.2 40.0L272.0 31.0Z" fill="#fff" stroke="#fff" stroke-width="1.2" stroke-linejoin="round"/>
<path d="M88.0 60.8L90.5 58.2L94.5 57.0L98.0 58.0L101.2 60.0L104.5 62.5L108.0 65.0L111.2 67.5L112.0 72.0L110.5 75.0L105.0 75.8L99.5 75.0L97.5 71.8L97.0 68.2L93.0 65.8L90.0 64.2Z" fill="#fff" stroke="#fff" stroke-width="1.2" stroke-linejoin="round"/>
<path d="M120.0 69.0L121.5 68.0L122.8 69.5L121.5 71.0Z" fill="#fff" stroke="#fff" stroke-width="1.2" stroke-linejoin="round"/>
<path d="M171.0 105.0L172.8 104.0L174.2 105.5L172.8 107.2Z" fill="#fff" stroke="#fff" stroke-width="1.2" stroke-linejoin="round"/>
<path d="M223.0 74.2L226.2 70.8L231.2 69.2L238.8 68.8L243.8 70.0L245.0 72.5L242.0 75.0L237.0 76.8L231.8 77.5L226.8 76.8Z" fill="#fff" stroke="#fff" stroke-width="1.2" stroke-linejoin="round"/>
<path d="M248.8 65.0L252.5 60.8L256.2 58.8L261.2 58.0L265.0 59.5L264.5 62.5L260.5 64.5L256.2 66.2L252.5 68.0Z" fill="#fff" stroke="#fff" stroke-width="1.2" stroke-linejoin="round"/>
<path d="M313.8 38.8L317.5 37.0L322.0 38.8L325.5 40.5L325.0 43.8L320.5 45.0L316.2 44.2L313.8 42.0Z" fill="#d0fcc4" stroke="#d0fcc4" stroke-width="1.2" stroke-linejoin="round"/>
<path d="M276.2 40.5L279.2 38.8L282.0 40.0L281.5 43.8L278.8 46.2L276.2 45.0Z" fill="#d0fcc4" stroke="#d0fcc4" stroke-width="1.2" stroke-linejoin="round"/>
<path d="M280.0 58.8L285.0 56.2L289.5 57.5L291.2 62.0L289.5 67.0L286.2 71.2L282.0 75.0L278.8 77.5L275.0 80.5L274.5 85.0L272.0 87.5L269.5 85.8L270.0 81.2L272.5 77.0L273.8 72.0L276.2 67.5L278.2 62.5Z" fill="#d0fcc4" stroke="#d0fcc4" stroke-width="1.2" stroke-linejoin="round"/>
<path d="M247.0 101.2L250.0 97.5L255.0 96.2L260.0 97.5L263.8 101.2L265.0 106.2L266.2 111.2L265.0 116.2L261.2 120.0L256.2 122.0L252.0 121.2L247.5 117.5L247.0 112.5L248.0 107.5Z" fill="#d0fcc4" stroke="#d0fcc4" stroke-width="1.2" stroke-linejoin="round"/>
<path d="M270.0 106.2L275.0 103.8L280.0 105.0L283.0 110.0L285.5 115.0L287.0 121.2L283.8 125.0L278.8 127.0L272.5 127.0L266.2 125.0L263.8 122.5L267.5 118.8L269.5 113.8L268.8 110.0Z" fill="#d0fcc4" stroke="#d0fcc4" stroke-width="1.2" stroke-linejoin="round"/>
<path d="M182.5 136.2L185.0 133.8L188.8 134.5L190.0 137.5L188.0 140.5L184.5 140.0Z" fill="#d0fcc4" stroke="#d0fcc4" stroke-width="1.2" stroke-linejoin="round"/>
<path d="M178.0 147.5L182.5 145.0L188.8 144.5L193.8 145.5L194.5 149.5L190.0 152.5L184.5 153.8L179.5 152.5Z" fill="#d0fcc4" stroke="#d0fcc4" stroke-width="1.2" stroke-linejoin="round"/>
<path d="M333.8 163.8L337.5 161.2L341.2 162.5L342.5 168.8L341.2 175.0L337.5 178.0L333.8 175.0L333.0 168.8Z" fill="#d0fcc4" stroke="#d0fcc4" stroke-width="1.2" stroke-linejoin="round"/>
<path d="M350.0 97.5L353.8 96.2L357.5 98.0L357.0 102.0L353.0 103.0L350.0 101.2Z" fill="#d0fcc4" stroke="#d0fcc4" stroke-width="1.2" stroke-linejoin="round"/>
<path d="M362.5 101.2L366.2 98.0L372.5 98.8L378.8 102.0L383.8 106.2L385.0 111.2L382.5 115.0L376.2 116.2L371.2 118.8L366.2 121.2L360.0 123.0L353.8 123.8L348.0 122.5L347.0 118.8L352.5 117.0L358.8 115.5L362.0 111.2L361.2 106.2Z" fill="#d0fcc4" stroke="#d0fcc4" stroke-width="1.2" stroke-linejoin="round"/>
<path d="M391.2 69.5L397.5 67.0L407.5 67.0L417.5 68.0L427.5 67.5L436.2 68.8L440.0 72.0L437.5 75.0L430.0 76.2L420.0 75.8L410.0 76.2L401.2 75.0L393.8 73.8Z" fill="#d0fcc4" stroke="#d0fcc4" stroke-width="1.2" stroke-linejoin="round"/>
<path d="M407.5 105.0L411.2 101.2L417.5 98.8L422.5 100.0L425.0 103.0L421.2 107.0L415.0 110.0L410.0 111.2L407.5 108.8Z" fill="#d0fcc4" stroke="#d0fcc4" stroke-width="1.2" stroke-linejoin="round"/>
<path d="M427.5 100.0L435.0 97.5L445.0 96.2L453.8 95.0L460.0 96.2L462.5 100.0L457.5 103.8L450.0 105.0L442.5 107.5L435.0 108.8L430.0 106.2Z" fill="#d0fcc4" stroke="#d0fcc4" stroke-width="1.2" stroke-linejoin="round"/>
<path d="M460.0 112.5L465.0 108.8L468.8 110.0L468.8 125.0L465.0 135.0L461.2 132.5L459.5 125.0L458.8 117.5Z" fill="#d0fcc4" stroke="#d0fcc4" stroke-width="1.2" stroke-linejoin="round"/>
<path d="M437.5 132.5L443.8 130.0L450.0 131.2L451.2 136.2L446.2 139.5L440.0 140.0L436.2 137.0Z" fill="#d0fcc4" stroke="#d0fcc4" stroke-width="1.2" stroke-linejoin="round"/>
<path d="M416.2 147.5L422.5 146.2L430.0 148.8L437.5 151.2L443.8 155.0L442.5 160.0L436.2 161.2L428.8 160.0L422.5 157.5L417.5 153.8Z" fill="#d0fcc4" stroke="#d0fcc4" stroke-width="1.2" stroke-linejoin="round"/>
<path d="M428.0 155.0L431.0 154.5L432.0 157.0L429.0 158.0Z" fill="#96fc96" stroke="#96fc96" stroke-width="1.2" stroke-linejoin="round"/>
<path d="M392.5 161.2L400.0 158.8L410.0 160.0L417.5 162.5L421.2 167.5L415.0 170.0L405.0 169.5L397.5 168.0L392.5 165.0Z" fill="#d0fcc4" stroke="#d0fcc4" stroke-width="1.2" stroke-linejoin="round"/>
<path d="M340.0 160.0L347.5 157.5L355.0 158.8L360.0 161.2L362.5 167.5L360.0 175.0L355.0 178.0L345.0 178.0L341.2 172.5L338.8 166.2Z" fill="#d0fcc4" stroke="#d0fcc4" stroke-width="1.2" stroke-linejoin="round"/>
<path d="M306.2 180.0L311.2 177.0L317.5 176.2L321.2 178.8L320.0 183.8L315.0 187.5L310.0 187.5L306.2 185.0Z" fill="#d0fcc4" stroke="#d0fcc4" stroke-width="1.2" stroke-linejoin="round"/>
<path d="M332.5 162.5L337.5 160.0L340.0 165.0L338.8 170.0L333.8 168.8Z" fill="#d0fcc4" stroke="#d0fcc4" stroke-width="1.2" stroke-linejoin="round"/>
<path d="M267.5 215.0L272.5 213.8L276.2 215.5L275.0 220.0L270.5 221.2L267.5 218.8Z" fill="#d0fcc4" stroke="#d0fcc4" stroke-width="1.2" stroke-linejoin="round"/>
<path d="M280.0 216.2L285.0 214.5L288.8 217.0L287.5 221.2L282.5 222.5Z" fill="#d0fcc4" stroke="#d0fcc4" stroke-width="1.2" stroke-linejoin="round"/>
<path d="M292.5 210.0L295.5 208.8L297.0 212.0L294.5 213.8Z" fill="#d0fcc4" stroke="#d0fcc4" stroke-width="1.2" stroke-linejoin="round"/>
<path d="M260.0 233.8L265.0 232.0L268.8 234.5L269.5 238.8L266.2 241.2L261.2 240.0Z" fill="#d0fcc4" stroke="#d0fcc4" stroke-width="1.2" stroke-linejoin="round"/>
<path d="M282.5 228.8L287.5 227.5L291.2 230.5L290.0 236.2L285.0 237.5L282.0 233.8Z" fill="#d0fcc4" stroke="#d0fcc4" stroke-width="1.2" stroke-linejoin="round"/>
<path d="M326.2 210.0L330.0 208.8L331.2 212.5L328.0 214.5Z" fill="#d0fcc4" stroke="#d0fcc4" stroke-width="1.2" stroke-linejoin="round"/>
<path d="M308.8 217.5L312.5 216.2L313.8 220.0L310.0 221.2Z" fill="#d0fcc4" stroke="#d0fcc4" stroke-width="1.2" stroke-linejoin="round"/>
<path d="M343.8 196.2L346.2 195.0L347.0 198.0L344.5 199.0Z" fill="#d0fcc4" stroke="#d0fcc4" stroke-width="1.2" stroke-linejoin="round"/>
<path d="M340.0 281.2L343.8 280.0L345.0 285.0L341.2 286.2Z" fill="#d0fcc4" stroke="#d0fcc4" stroke-width="1.2" stroke-linejoin="round"/>
<path d="M306.2 181.2L311.2 178.0L317.5 177.0L321.2 179.5L320.0 183.8L315.0 187.5L310.0 187.5L306.2 185.0Z" fill="#d0fcc4" stroke="#d0fcc4" stroke-width="1.2" stroke-linejoin="round"/>
<path d="M332.8 163.3L335.6 161.2L339.7 159.9L345.3 159.2L350.8 159.4L356.4 160.6L360.6 162.6L361.2 166.1L359.2 170.3L356.4 174.4L353.6 178.6L350.8 182.8L348.1 184.9L343.9 184.2L341.8 181.4L341.1 177.2L341.8 173.1L339.7 170.3L335.6 168.9L333.1 166.8Z" fill="#d0fcc4" stroke="#d0fcc4" stroke-width="1.2" stroke-linejoin="round"/>
<path d="M391.1 161.9L395.3 159.9L400.8 159.9L406.4 160.6L411.9 162.6L414.0 165.4L411.9 168.2L407.1 168.9L402.2 168.2L396.7 166.8L392.5 164.7Z" fill="#d0fcc4" stroke="#d0fcc4" stroke-width="1.2" stroke-linejoin="round"/>
<path d="M436.9 135.6L441.1 132.8L446.7 131.4L450.1 132.8L449.4 136.2L445.3 139.0L441.1 140.0L437.6 138.6Z" fill="#d0fcc4" stroke="#d0fcc4" stroke-width="1.2" stroke-linejoin="round"/>
<path d="M416.1 149.4L420.3 147.4L425.8 147.8L431.4 149.4L436.9 151.5L442.5 154.3L443.9 157.1L441.1 159.9L439.7 163.3L435.6 164.7L431.4 163.3L427.2 161.2L424.4 158.5L420.3 155.7L416.8 152.9Z" fill="#d0fcc4" stroke="#d0fcc4" stroke-width="1.2" stroke-linejoin="round"/>
<path d="M427.2 155.0L429.7 154.7L430.3 156.7L427.8 156.9Z" fill="#96fc96" stroke="#96fc96" stroke-width="1.2" stroke-linejoin="round"/>
<path d="M432.5 155.6L434.9 155.6L435.3 157.2L433.1 157.5Z" fill="#96fc96" stroke="#96fc96" stroke-width="1.2" stroke-linejoin="round"/>
<path d="M405.0 195.3L407.8 193.9L410.6 195.3L409.9 198.1L406.4 198.8Z" fill="#d0fcc4" stroke="#d0fcc4" stroke-width="1.2" stroke-linejoin="round"/>
<path d="M452.2 150.8L457.8 149.4L463.3 147.4L468.2 146.0L468.2 191.1L463.3 192.5L457.8 193.9L452.2 195.3L448.1 196.7L443.9 199.4L439.7 202.2L434.2 204.3L428.6 205.7L423.1 206.4L418.9 205.0L414.7 202.2L412.6 198.1L411.9 193.2L414.7 188.3L420.3 184.9L427.2 182.8L432.8 180.0L438.3 177.2L442.5 173.1L446.7 168.9L449.4 164.7L452.2 160.6L455.0 156.4L453.6 153.6Z" fill="#d0fcc4" stroke="#d0fcc4" stroke-width="1.2" stroke-linejoin="round"/>
<path d="M443.9 202.2L449.4 199.4L455.0 198.1L460.6 195.3L468.2 193.9L468.2 215.0L441.1 215.0L439.7 210.6L441.1 206.4Z" fill="#d0fcc4" stroke="#d0fcc4" stroke-width="1.2" stroke-linejoin="round"/>
<path d="M443.9 174.4L448.1 171.0L453.6 167.5L459.2 164.7L463.3 163.3L464.7 166.1L461.9 169.6L457.8 171.7L453.6 174.4L449.4 176.5L445.3 176.5Z" fill="#96fc96" stroke="#96fc96" stroke-width="1.2" stroke-linejoin="round"/>
<path d="M455.7 152.9L458.5 151.5L459.9 154.3L457.1 155.7Z" fill="#96fc96" stroke="#96fc96" stroke-width="1.2" stroke-linejoin="round"/>
<path d="M460.6 155.0L463.3 149.4L468.2 147.4L468.2 166.8L464.7 167.5L461.2 165.4L460.3 160.6Z" fill="#96fc96" stroke="#96fc96" stroke-width="1.2" stroke-linejoin="round"/>
<path d="M464.0 174.4L466.8 173.1L468.2 177.2L464.7 177.9Z" fill="#96fc96" stroke="#96fc96" stroke-width="1.2" stroke-linejoin="round"/>
<path d="M461.9 153.6L464.7 149.4L468.2 148.1L468.2 164.7L464.7 166.1L462.2 164.0L461.5 159.9L462.6 156.4Z" fill="#64fcfc" stroke="#64fcfc" stroke-width="1.2" stroke-linejoin="round"/>
<path d="M446.7 205.0L450.8 202.9L456.4 201.5L460.6 199.4L463.3 196.7L468.2 196.0L468.2 205.0L463.3 206.4L457.8 207.8L452.2 209.4L448.1 209.2Z" fill="#96fc96" stroke="#96fc96" stroke-width="1.2" stroke-linejoin="round"/>
<path d="M459.2 199.4L462.6 196.7L466.8 196.4L468.2 202.2L464.0 203.6L460.6 202.9Z" fill="#64fcfc" stroke="#64fcfc" stroke-width="1.2" stroke-linejoin="round"/>
<path d="M413.3 215.3L418.9 211.8L425.8 209.7L432.8 207.6L439.7 205.6L445.3 202.8L449.4 200.0L468.2 200.0L468.2 208.3L463.3 212.5L457.8 214.6L452.2 216.0L445.3 217.4L438.3 218.8L431.4 219.4L424.4 220.1L418.9 219.4L414.7 218.1Z" fill="#d0fcc4" stroke="#d0fcc4" stroke-width="1.2" stroke-linejoin="round"/>
<path d="M446.7 205.6L450.8 203.5L456.4 202.1L461.9 201.4L463.3 204.2L459.2 206.9L453.6 209.0L448.8 209.0Z" fill="#96fc96" stroke="#96fc96" stroke-width="1.2" stroke-linejoin="round"/>
<path d="M461.9 200.0L468.2 200.0L468.2 203.5L464.0 203.5Z" fill="#64fcfc" stroke="#64fcfc" stroke-width="1.2" stroke-linejoin="round"/>
<path d="M396.7 224.3L400.8 222.9L405.0 223.6L406.4 226.4L403.6 228.5L399.4 229.2L396.7 227.1Z" fill="#d0fcc4" stroke="#d0fcc4" stroke-width="1.2" stroke-linejoin="round"/>
<path d="M457.8 229.2L460.6 225.7L464.7 223.6L468.2 224.3L468.2 234.7L463.3 234.7L459.2 234.0Z" fill="#d0fcc4" stroke="#d0fcc4" stroke-width="1.2" stroke-linejoin="round"/>
<path d="M459.9 229.9L462.6 226.4L466.1 225.7L466.8 229.9L464.0 233.3L460.6 233.3Z" fill="#64fcfc" stroke="#64fcfc" stroke-width="1.2" stroke-linejoin="round"/>
<path d="M425.8 241.7L429.3 239.6L433.5 240.3L434.9 243.1L432.1 245.6L427.9 245.1Z" fill="#d0fcc4" stroke="#d0fcc4" stroke-width="1.2" stroke-linejoin="round"/>
<path d="M391.1 258.3L395.3 255.6L400.8 253.5L405.7 252.1L411.9 252.8L413.3 256.9L411.2 260.4L406.4 261.8L402.2 262.5L398.1 263.9L393.9 264.6L391.1 262.5Z" fill="#d0fcc4" stroke="#d0fcc4" stroke-width="1.2" stroke-linejoin="round"/>
<path d="M405.0 254.9L407.8 253.1L411.2 254.2L411.9 256.9L409.9 259.4L406.4 259.0Z" fill="#96fc96" stroke="#96fc96" stroke-width="1.2" stroke-linejoin="round"/>
<path d="M103.8 355.0L108.8 351.2L115.0 352.5L120.0 356.2L122.5 362.5L120.0 368.8L116.2 373.8L111.2 377.5L106.2 376.2L105.0 370.0L106.2 363.8L104.5 358.8Z" fill="#d0fcc4" stroke="#d0fcc4" stroke-width="1.2" stroke-linejoin="round"/>
<path d="M150.0 370.0L155.0 366.2L160.0 361.2L166.2 357.5L172.5 356.2L180.0 357.0L187.5 357.5L193.8 356.2L198.8 352.5L203.8 347.5L208.8 343.8L215.0 342.5L218.8 346.2L216.2 351.2L211.2 356.2L206.2 361.2L201.2 366.2L197.5 372.5L193.8 378.8L190.0 383.8L183.8 386.2L177.5 387.0L171.2 385.0L165.0 382.5L157.5 381.2L151.2 380.0L147.5 383.8L145.0 388.8L140.0 392.5L135.0 396.2L130.0 400.0L125.0 405.0L120.0 408.8L113.8 410.0L108.8 407.5L112.5 402.5L116.2 397.5L115.0 391.2L117.5 386.2L123.8 382.5L130.0 378.8L135.0 375.0L138.8 368.8L142.5 365.0L146.2 367.5Z" fill="#d0fcc4" stroke="#d0fcc4" stroke-width="1.2" stroke-linejoin="round"/>
<path d="M176.2 345.0L180.0 341.2L185.0 340.0L188.8 342.5L188.0 347.5L183.8 350.5L178.8 350.0Z" fill="#d0fcc4" stroke="#d0fcc4" stroke-width="1.2" stroke-linejoin="round"/>
<path d="M162.5 351.2L166.2 349.5L169.5 352.0L168.0 355.5L163.8 355.5Z" fill="#d0fcc4" stroke="#d0fcc4" stroke-width="1.2" stroke-linejoin="round"/>
<path d="M86.2 405.0L91.2 401.2L97.5 402.5L100.0 406.2L95.0 410.0L88.8 410.5Z" fill="#d0fcc4" stroke="#d0fcc4" stroke-width="1.2" stroke-linejoin="round"/>
<path d="M105.0 410.0L112.5 407.5L120.0 410.0L121.2 414.5L105.0 414.5Z" fill="#d0fcc4" stroke="#d0fcc4" stroke-width="1.2" stroke-linejoin="round"/>
<path d="M126.2 406.2L132.5 402.5L138.8 403.8L142.5 407.5L140.0 412.5L130.0 413.8Z" fill="#d0fcc4" stroke="#d0fcc4" stroke-width="1.2" stroke-linejoin="round"/>
<path d="M170.0 406.2L175.0 403.8L180.0 405.0L178.8 410.0L172.5 411.2Z" fill="#d0fcc4" stroke="#d0fcc4" stroke-width="1.2" stroke-linejoin="round"/>
<path d="M185.0 403.8L190.0 402.0L192.5 405.0L188.8 408.0Z" fill="#d0fcc4" stroke="#d0fcc4" stroke-width="1.2" stroke-linejoin="round"/>
<path d="M252.5 331.2L256.2 328.0L261.2 328.8L265.0 332.5L263.8 337.0L258.8 338.8L253.8 336.2Z" fill="#d0fcc4" stroke="#d0fcc4" stroke-width="1.2" stroke-linejoin="round"/>
<path d="M272.5 316.2L277.5 313.8L285.0 314.5L290.0 311.2L297.5 307.5L305.0 305.0L311.2 307.5L316.2 312.5L321.2 313.8L322.5 317.5L317.5 320.0L312.5 323.8L305.0 326.2L297.5 328.8L290.0 328.8L283.8 326.2L277.5 325.0L273.0 321.2Z" fill="#d0fcc4" stroke="#d0fcc4" stroke-width="1.2" stroke-linejoin="round"/>
<path d="M320.0 335.0L326.2 331.2L332.5 328.8L340.0 326.2L350.0 323.8L350.0 335.0L342.5 335.5L335.0 337.0L327.5 338.8L321.2 338.8Z" fill="#d0fcc4" stroke="#d0fcc4" stroke-width="1.2" stroke-linejoin="round"/>
<path d="M340.0 296.2L345.0 293.8L350.0 292.5L350.0 305.0L343.8 303.8L340.0 300.0Z" fill="#d0fcc4" stroke="#d0fcc4" stroke-width="1.2" stroke-linejoin="round"/>
<path d="M317.5 352.5L322.5 347.5L327.5 346.2L328.8 351.2L325.0 356.2L320.0 357.0Z" fill="#d0fcc4" stroke="#d0fcc4" stroke-width="1.2" stroke-linejoin="round"/>
<path d="M320.0 363.8L325.0 361.2L327.5 366.2L325.0 371.2L320.5 370.0Z" fill="#d0fcc4" stroke="#d0fcc4" stroke-width="1.2" stroke-linejoin="round"/>
<path d="M315.0 377.5L318.8 375.0L321.2 378.8L318.8 383.8L315.0 382.5Z" fill="#d0fcc4" stroke="#d0fcc4" stroke-width="1.2" stroke-linejoin="round"/>
<path d="M340.0 402.5L345.0 397.5L350.0 396.2L350.0 413.8L340.0 413.8Z" fill="#d0fcc4" stroke="#d0fcc4" stroke-width="1.2" stroke-linejoin="round"/>
<path d="M171.2 376.2L176.2 372.5L182.5 371.2L188.8 371.2L192.0 374.5L190.0 378.8L185.0 381.2L178.8 382.0L173.8 380.5Z" fill="#96fc96" stroke="#96fc96" stroke-width="1.2" stroke-linejoin="round"/>
<path d="M255.8 330.5L259.5 329.5L261.5 332.5L260.0 336.0L256.5 335.5Z" fill="#96fc96" stroke="#96fc96" stroke-width="1.2" stroke-linejoin="round"/>
<path d="M275.0 317.0L280.0 315.0L285.5 316.2L290.0 313.0L296.2 309.5L303.8 307.0L308.8 309.5L311.2 315.0L312.5 320.0L306.2 323.8L298.8 325.5L291.2 326.2L286.2 323.8L280.0 323.8L275.5 321.2Z" fill="#96fc96" stroke="#96fc96" stroke-width="1.2" stroke-linejoin="round"/>
<path d="M276.2 317.5L281.2 316.2L284.5 318.8L282.5 323.0L277.5 323.0Z" fill="#64fcfc" stroke="#64fcfc" stroke-width="1.2" stroke-linejoin="round"/>
<path d="M288.8 317.5L292.5 313.8L298.8 312.0L305.0 310.0L308.8 313.0L308.0 318.0L302.5 318.8L297.5 321.2L292.5 323.8L288.8 322.0Z" fill="#64fcfc" stroke="#64fcfc" stroke-width="1.2" stroke-linejoin="round"/>
<path d="M315.0 315.0L317.5 314.5L318.0 317.0L315.5 317.5Z" fill="#96fc96" stroke="#96fc96" stroke-width="1.2" stroke-linejoin="round"/>
<path d="M320.0 332.5L325.0 328.8L332.5 326.2L340.0 323.8L347.5 320.0L353.8 317.5L358.8 318.8L357.5 323.8L351.2 327.5L345.0 331.2L337.5 333.8L330.0 337.5L323.8 338.8L320.0 336.2Z" fill="#d0fcc4" stroke="#d0fcc4" stroke-width="1.2" stroke-linejoin="round"/>
<path d="M360.0 352.5L363.8 346.2L370.0 341.2L376.2 338.8L382.5 336.2L387.5 332.5L393.8 330.0L397.5 335.0L395.0 341.2L388.8 343.8L382.5 345.0L376.2 347.5L370.0 351.2L365.0 356.2L361.2 357.0Z" fill="#d0fcc4" stroke="#d0fcc4" stroke-width="1.2" stroke-linejoin="round"/>
<path d="M317.5 352.5L321.2 348.8L326.2 346.2L328.8 348.8L326.2 353.8L321.2 356.2Z" fill="#d0fcc4" stroke="#d0fcc4" stroke-width="1.2" stroke-linejoin="round"/>
<path d="M320.0 363.8L323.8 361.2L327.5 363.8L328.0 368.8L323.8 371.2L320.0 368.8Z" fill="#d0fcc4" stroke="#d0fcc4" stroke-width="1.2" stroke-linejoin="round"/>
<path d="M316.2 376.2L320.0 374.5L322.0 377.5L319.5 381.2L316.2 380.0Z" fill="#d0fcc4" stroke="#d0fcc4" stroke-width="1.2" stroke-linejoin="round"/>
<path d="M372.5 375.0L376.2 370.0L381.2 365.0L386.2 362.0L390.0 363.8L388.8 370.0L383.8 375.0L378.8 380.0L373.8 381.2Z" fill="#d0fcc4" stroke="#d0fcc4" stroke-width="1.2" stroke-linejoin="round"/>
<path d="M365.0 393.8L370.0 388.8L375.0 387.5L376.2 392.5L372.5 397.5L367.5 400.0Z" fill="#d0fcc4" stroke="#d0fcc4" stroke-width="1.2" stroke-linejoin="round"/>
<path d="M341.2 401.2L345.0 397.5L348.8 398.8L347.5 406.2L343.8 412.5L340.0 411.2Z" fill="#d0fcc4" stroke="#d0fcc4" stroke-width="1.2" stroke-linejoin="round"/>
<path d="M353.8 400.0L357.5 397.5L360.0 401.2L357.5 406.2L353.8 405.0Z" fill="#d0fcc4" stroke="#d0fcc4" stroke-width="1.2" stroke-linejoin="round"/>
<path d="M360.0 407.5L365.0 405.0L367.5 408.8L363.8 412.5L360.0 411.2Z" fill="#d0fcc4" stroke="#d0fcc4" stroke-width="1.2" stroke-linejoin="round"/>
<path d="M452.5 408.8L457.5 406.2L460.0 410.0L456.2 413.8L452.5 412.5Z" fill="#d0fcc4" stroke="#d0fcc4" stroke-width="1.2" stroke-linejoin="round"/>
<path d="M461.2 393.8L465.0 392.5L466.2 397.5L462.5 398.8Z" fill="#d0fcc4" stroke="#d0fcc4" stroke-width="1.2" stroke-linejoin="round"/>
<path d="M343.8 296.2L348.8 293.8L352.5 295.0L351.2 299.5L346.2 301.2L343.8 299.5Z" fill="#d0fcc4" stroke="#d0fcc4" stroke-width="1.2" stroke-linejoin="round"/>
<path d="M366.2 295.0L370.0 292.5L375.0 293.8L373.8 298.8L368.8 300.5Z" fill="#d0fcc4" stroke="#d0fcc4" stroke-width="1.2" stroke-linejoin="round"/>
<path d="M372.5 283.8L376.2 282.0L378.8 285.0L376.2 288.0L373.0 287.0Z" fill="#d0fcc4" stroke="#d0fcc4" stroke-width="1.2" stroke-linejoin="round"/>
<path d="M390.0 258.9L393.3 256.7L397.8 255.6L402.2 255.0L404.4 253.3L408.9 252.2L412.2 254.4L412.8 257.8L410.0 260.0L406.7 261.1L404.4 263.3L402.2 265.6L398.9 267.8L394.4 268.9L391.1 267.8L389.4 264.4L389.1 261.1Z" fill="#d0fcc4" stroke="#d0fcc4" stroke-width="1.2" stroke-linejoin="round"/>
<path d="M363.3 296.7L366.7 293.3L372.2 290.6L377.8 290.0L382.2 292.2L386.7 291.1L391.1 287.8L395.6 283.3L398.9 279.4L404.4 276.1L411.1 273.9L417.8 272.8L422.2 271.7L420.0 269.4L423.3 266.7L426.7 264.4L431.1 262.8L426.7 261.1L425.6 257.8L426.7 255.0L432.2 253.3L437.8 251.7L443.3 250.0L468.9 250.0L468.9 260.0L464.4 261.1L460.0 262.2L455.6 263.3L451.1 264.4L447.8 265.6L444.4 267.2L441.1 268.9L438.9 271.7L437.8 275.0L442.2 275.6L447.8 275.0L453.3 275.6L458.9 277.2L463.3 280.0L466.1 284.4L468.3 288.9L468.9 296.7L466.7 300.0L460.0 300.0L456.7 303.3L453.3 306.7L450.0 310.0L446.7 313.3L444.4 316.7L442.2 320.0L439.4 322.8L437.8 325.6L436.7 328.9L437.8 333.3L436.7 337.8L433.3 340.0L430.0 338.9L426.7 336.7L423.3 334.4L420.0 335.6L416.7 337.8L415.6 341.1L414.4 344.4L411.1 346.7L407.8 347.8L404.4 346.7L401.1 344.4L397.8 342.2L393.3 341.1L388.9 342.2L384.4 343.9L380.0 345.6L375.6 347.8L371.1 350.0L366.7 352.2L363.3 355.6L360.0 356.7L360.0 347.8L363.3 345.6L367.8 342.8L372.2 340.6L376.7 337.8L378.9 333.3L376.7 328.9L375.6 324.4L376.7 320.0L375.6 315.6L373.3 311.1L372.2 305.6L374.4 302.2L370.0 302.2L364.4 302.2Z" fill="#d0fcc4" stroke="#d0fcc4" stroke-width="1.2" stroke-linejoin="round"/>
<path d="M361.1 352.2L364.4 351.1L367.8 352.2L370.0 355.6L368.9 357.8L365.6 358.3L362.2 357.8Z" fill="#d0fcc4" stroke="#d0fcc4" stroke-width="1.2" stroke-linejoin="round"/>
<path d="M384.4 354.4L387.2 353.3L388.9 355.0L387.8 357.2L385.3 356.9Z" fill="#d0fcc4" stroke="#d0fcc4" stroke-width="1.2" stroke-linejoin="round"/>
<path d="M383.3 363.3L386.1 361.7L389.4 362.2L391.1 365.0L390.6 368.0L382.8 368.0Z" fill="#d0fcc4" stroke="#d0fcc4" stroke-width="1.2" stroke-linejoin="round"/>
<path d="M421.7 256.9L427.2 253.5L434.2 250.0L441.1 246.5L448.1 243.1L455.0 239.6L461.9 237.5L468.2 235.4L468.2 260.4L461.9 261.8L455.0 263.2L449.4 265.3L445.3 268.1L441.1 270.8L436.9 273.6L432.8 275.7L427.2 275.0L421.7 274.3L416.1 275.0L411.9 274.3L409.2 271.5L411.2 268.8L416.1 267.4L420.3 265.3L424.4 262.5L425.8 259.7Z" fill="#d0fcc4" stroke="#d0fcc4" stroke-width="1.2" stroke-linejoin="round"/>
<path d="M400.0 280.0L405.6 277.2L412.2 275.3L418.9 274.4L424.4 274.2L426.7 272.8L424.4 271.1L425.6 267.8L428.9 265.6L433.3 263.3L431.1 262.0L428.3 260.6L426.7 258.3L427.8 256.1L432.2 254.4L437.8 252.8L443.3 250.9L446.7 250.0L468.3 250.0L468.3 259.4L463.3 260.9L458.9 261.7L454.4 262.8L450.0 263.9L446.7 265.0L443.3 266.4L440.0 267.8L437.8 270.0L435.6 272.2L433.3 273.9L432.2 276.7L436.7 277.2L442.2 276.7L447.8 276.7L453.3 277.2L457.8 278.9L461.1 281.7L463.3 285.6L465.0 290.0L464.4 294.4L462.2 297.8L460.0 300.0L454.4 302.2L451.1 305.0L447.8 307.8L444.4 311.1L442.8 314.4L441.1 317.8L438.9 321.1L436.7 323.3L433.3 325.0L430.0 326.1L426.7 327.8L424.4 331.1L422.8 332.8L421.1 330.0L417.8 329.1L414.4 328.3L412.2 326.7L408.9 326.1L405.6 324.4L405.0 321.7L406.7 320.6L408.9 322.2L410.0 321.1L408.9 317.8L406.7 314.4L404.4 311.1L402.2 308.3L398.9 307.8L395.6 308.3L392.2 308.9L389.4 310.6L386.7 313.3L383.9 315.0L380.6 314.4L377.8 311.1L376.1 306.7L376.7 303.3L378.9 301.1L382.2 299.4L385.6 296.7L388.3 293.9L391.7 290.6L395.0 287.2L397.8 283.3Z" fill="#96fc96" stroke="#96fc96" stroke-width="1.2" stroke-linejoin="round"/>
<path d="M366.7 295.6L369.4 293.3L372.8 292.0L375.0 292.8L374.4 295.6L371.7 297.8L368.9 299.4L366.7 298.9Z" fill="#96fc96" stroke="#96fc96" stroke-width="1.2" stroke-linejoin="round"/>
<path d="M373.3 283.3L376.1 282.4L378.3 283.9L377.8 286.1L375.0 286.7L373.1 285.3Z" fill="#96fc96" stroke="#96fc96" stroke-width="1.2" stroke-linejoin="round"/>
<path d="M405.6 254.4L407.8 253.1L410.6 253.9L411.3 256.1L409.4 258.0L406.7 257.8L405.3 256.1Z" fill="#96fc96" stroke="#96fc96" stroke-width="1.2" stroke-linejoin="round"/>
<path d="M395.6 328.3L397.8 326.7L401.1 326.1L403.9 327.8L404.4 331.1L406.7 332.8L410.0 331.7L412.8 330.6L414.4 332.2L413.3 335.0L411.1 337.2L408.9 338.9L406.7 340.6L403.9 341.3L401.1 340.2L398.9 338.3L397.2 336.1L395.6 333.3L395.0 330.6Z" fill="#96fc96" stroke="#96fc96" stroke-width="1.2" stroke-linejoin="round"/>
<path d="M425.8 255.6L430.0 253.5L435.6 251.4L441.1 248.6L446.7 245.1L452.2 242.4L457.8 240.3L463.3 238.9L468.2 237.5L468.2 258.3L463.3 259.7L457.8 261.1L452.2 262.5L448.1 265.3L443.9 266.7L438.3 266.0L434.2 263.9L430.0 262.5L427.2 259.0Z" fill="#96fc96" stroke="#96fc96" stroke-width="1.2" stroke-linejoin="round"/>
<path d="M402.2 281.1L406.7 278.3L412.2 276.7L417.8 275.8L423.3 275.6L427.8 276.1L431.1 278.3L435.6 279.4L441.1 279.1L446.7 279.4L451.1 280.6L453.9 282.8L453.3 285.6L455.6 287.8L458.9 290.0L460.0 293.3L458.3 296.7L455.6 299.4L452.8 302.0L450.0 301.7L446.7 304.4L443.3 307.2L441.1 310.0L440.0 313.3L437.8 316.1L435.6 317.8L433.9 320.0L432.8 322.2L430.0 323.3L426.7 323.9L423.9 325.0L421.1 326.7L417.8 327.2L415.0 326.1L412.8 323.9L411.7 320.6L412.2 317.2L410.6 314.4L407.8 312.2L405.6 309.4L403.9 306.7L401.1 305.0L397.8 305.6L394.4 306.7L391.1 307.2L388.3 305.6L386.7 302.2L386.7 298.9L388.3 295.6L391.1 292.8L394.4 290.0L397.2 287.2L399.4 283.9Z" fill="#64fcfc" stroke="#64fcfc" stroke-width="1.2" stroke-linejoin="round"/>
<path d="M427.2 256.9L431.4 254.9L436.9 252.8L442.5 249.3L448.1 245.8L453.6 243.1L459.2 241.0L464.7 239.6L468.2 238.9L468.2 257.6L461.9 259.0L456.4 260.4L450.8 261.8L446.7 263.9L442.5 265.3L438.3 264.6L435.6 262.5L431.4 261.1L427.9 259.7Z" fill="#64fcfc" stroke="#64fcfc" stroke-width="1.2" stroke-linejoin="round"/>
<path d="M426.1 270.6L426.7 267.8L430.0 265.6L433.3 263.9L436.7 262.8L440.0 263.1L443.3 263.9L442.2 266.1L440.0 266.7L437.8 268.3L435.6 270.6L432.2 271.7L428.9 271.7Z" fill="#64fcfc" stroke="#64fcfc" stroke-width="1.2" stroke-linejoin="round"/>
<path d="M421.7 270.0L424.4 269.4L425.6 271.3L423.9 272.8L421.7 272.2Z" fill="#64fcfc" stroke="#64fcfc" stroke-width="1.2" stroke-linejoin="round"/>
<path d="M410.6 270.0L413.3 269.1L415.0 271.1L413.3 273.3L410.9 272.8Z" fill="#64fcfc" stroke="#64fcfc" stroke-width="1.2" stroke-linejoin="round"/>
<path d="M397.8 328.3L400.0 327.6L402.0 328.7L401.7 330.9L399.4 331.7L397.8 330.6Z" fill="#64fcfc" stroke="#64fcfc" stroke-width="1.2" stroke-linejoin="round"/>
<path d="M398.3 334.4L400.6 333.9L401.7 335.6L400.0 336.9L398.3 336.1Z" fill="#00c8fc" stroke="#00c8fc" stroke-width="1.2" stroke-linejoin="round"/>
<path d="M405.0 334.4L407.2 333.9L408.3 335.6L406.7 336.9L405.0 336.1Z" fill="#00c8fc" stroke="#00c8fc" stroke-width="1.2" stroke-linejoin="round"/>
<path d="M404.4 281.7L407.8 279.4L412.2 278.3L416.7 277.2L421.1 277.2L425.6 277.8L428.3 280.0L431.1 282.2L435.6 283.3L438.9 285.0L442.2 287.8L445.0 291.1L447.2 294.4L447.8 297.8L446.1 300.0L444.4 302.2L442.2 304.4L440.0 306.7L437.8 308.9L436.7 311.7L437.2 314.4L435.6 315.6L432.2 315.6L428.9 315.0L426.7 316.1L425.6 318.9L423.3 321.7L420.6 323.3L417.2 323.9L414.4 322.8L413.3 320.6L414.4 317.8L413.3 315.0L410.6 312.8L407.8 310.6L405.6 307.8L404.4 304.4L406.7 302.2L408.9 300.0L406.7 298.3L403.3 298.9L400.6 300.6L397.8 302.2L394.4 303.3L391.1 303.9L388.9 302.2L388.3 299.4L389.4 296.7L391.7 294.4L394.4 292.2L397.2 290.0L399.4 287.2L401.7 284.4Z" fill="#0064fc" stroke="#00c8fc" stroke-width="3.0" stroke-linejoin="round"/>
<path d="M428.3 268.3L431.1 266.7L434.4 267.2L435.6 268.9L433.3 270.2L430.0 270.0Z" fill="#0064fc" stroke="#00c8fc" stroke-width="3.0" stroke-linejoin="round"/>
<path d="M430.7 257.6L435.6 255.6L441.1 254.2L446.7 251.4L450.8 247.9L456.4 245.1L461.9 242.4L466.8 241.0L468.2 240.6L468.2 256.2L461.9 257.6L456.4 259.0L450.8 260.4L445.3 261.1L439.7 261.1L434.2 261.1L431.4 259.7Z" fill="#0064fc" stroke="#00c8fc" stroke-width="2.6" stroke-linejoin="round"/>
<path d="M408.9 293.3L412.2 292.2L414.4 294.4L413.3 297.2L410.6 298.3L408.3 296.7Z" fill="#64fcfc" stroke="#00c8fc" stroke-width="1.5" stroke-linejoin="round"/>
<path d="M412.2 300.6L416.7 299.4L420.0 300.0L421.7 302.2L420.0 303.9L415.6 303.6L412.2 303.1Z" fill="#64fcfc" stroke="#00c8fc" stroke-width="1.5" stroke-linejoin="round"/>
<path d="M422.2 289.4L425.6 288.9L426.7 291.1L424.4 292.8L422.2 292.0Z" fill="#00c8fc" stroke="#00c8fc" stroke-width="1.2" stroke-linejoin="round"/>
<path d="M406.7 282.2L408.9 280.6L412.2 279.8L415.6 279.1L418.9 278.7L422.2 278.9L425.0 280.6L426.7 282.8L427.2 285.0L425.6 286.7L422.8 287.8L420.6 288.9L418.3 288.3L416.1 287.2L413.9 286.7L412.2 288.3L410.0 289.8L407.8 290.6L405.6 291.7L402.8 292.2L400.0 292.4L399.4 290.6L401.1 288.3L403.3 286.1L405.0 283.9Z" fill="#dc64fc" stroke="#9664fc" stroke-width="1.0" stroke-linejoin="round"/>
<path d="M394.4 295.0L396.1 293.9L397.8 294.7L397.6 296.7L395.6 297.6L394.2 296.7Z" fill="#dc64fc" stroke="#9664fc" stroke-width="1.0" stroke-linejoin="round"/>
<path d="M425.6 293.9L428.3 292.8L432.2 292.2L436.1 292.8L438.9 293.9L441.1 296.1L441.7 298.9L440.6 301.7L438.3 303.3L435.6 304.4L433.3 305.6L431.7 307.2L428.9 307.8L426.7 306.7L425.6 304.4L424.4 301.7L423.9 298.9L424.2 296.1Z" fill="#dc64fc" stroke="#9664fc" stroke-width="1.0" stroke-linejoin="round"/>
<path d="M405.6 305.6L407.8 304.2L411.1 303.9L414.4 304.2L417.2 305.0L419.4 306.7L420.6 308.9L421.1 311.7L420.0 313.9L417.2 314.4L414.4 313.9L412.2 312.2L410.0 310.6L407.8 308.9L406.1 307.2Z" fill="#dc64fc" stroke="#9664fc" stroke-width="1.0" stroke-linejoin="round"/>
<path d="M429.4 311.7L431.7 310.6L433.9 311.1L434.4 313.3L432.2 314.4L430.0 313.9Z" fill="#dc64fc" stroke="#9664fc" stroke-width="1.0" stroke-linejoin="round"/>
<path d="M414.4 318.9L416.1 317.8L417.8 318.7L417.6 321.1L415.6 322.0L414.2 320.9Z" fill="#dc64fc" stroke="#9664fc" stroke-width="1.0" stroke-linejoin="round"/>
<path d="M421.1 315.6L422.8 315.0L423.3 317.8L422.2 320.0L420.9 318.9Z" fill="#9664fc" stroke="#9664fc" stroke-width="1.2" stroke-linejoin="round"/>
<path d="M432.1 258.1L435.6 256.9L438.3 258.1L436.9 260.4L433.5 260.4Z" fill="#dc64fc" stroke="#9664fc" stroke-width="1.0" stroke-linejoin="round"/>
<path d="M441.8 256.2L445.3 254.9L450.8 254.9L453.6 256.9L451.5 259.7L446.7 260.4L442.5 259.0Z" fill="#dc64fc" stroke="#9664fc" stroke-width="1.0" stroke-linejoin="round"/>
<path d="M455.0 253.5L459.2 250.7L462.6 247.9L465.4 245.1L468.2 244.2L468.2 254.9L463.3 256.2L459.2 256.9L455.7 256.2Z" fill="#dc64fc" stroke="#9664fc" stroke-width="1.0" stroke-linejoin="round"/>
<path d="M451.5 247.2L453.6 246.5L455.0 248.3L453.6 250.3L451.7 249.7Z" fill="#9664fc" stroke="#0064fc" stroke-width="1.0" stroke-linejoin="round"/>
</g>
<rect x="85.5" y="413" width="383.00" height="1.5" fill="#fff"/>
<path class="gl" d="M149.40 31.5V414.5M213.15 31.5V414.5M276.90 31.5V414.5M340.65 31.5V414.5M404.40 31.5V414.5M85.5 94.45H468.5M85.5 158.3H468.5M85.5 222.4H468.5M85.5 285.9H468.5M85.5 349.45H468.5"/>
<g clip-path="url(#cl)"><use href="#coast" transform="translate(-469.5 0)"/></g>
<rect class="fr" x="85.5" y="31.5" width="383.00" height="383.00"/>
<text x="149.8" y="424.9" font-size="9.2" text-anchor="middle" textLength="22.6" lengthAdjust="spacingAndGlyphs">125°E</text>
<text x="213.55" y="424.9" font-size="9.2" text-anchor="middle" textLength="22.6" lengthAdjust="spacingAndGlyphs">130°E</text>
<text x="277.3" y="424.9" font-size="9.2" text-anchor="middle" textLength="22.6" lengthAdjust="spacingAndGlyphs">135°E</text>
<text x="341.05" y="424.9" font-size="9.2" text-anchor="middle" textLength="22.6" lengthAdjust="spacingAndGlyphs">140°E</text>
<text x="404.8" y="424.9" font-size="9.2" text-anchor="middle" textLength="22.6" lengthAdjust="spacingAndGlyphs">145°E</text>
<text x="81.2" y="97" font-size="9.2" text-anchor="end" textLength="19.0" lengthAdjust="spacingAndGlyphs">45°N</text>
<text x="81.2" y="160" font-size="9.2" text-anchor="end" textLength="19.0" lengthAdjust="spacingAndGlyphs">40°N</text>
<text x="81.2" y="225" font-size="9.2" text-anchor="end" textLength="19.0" lengthAdjust="spacingAndGlyphs">35°N</text>
<text x="81.2" y="288" font-size="9.2" text-anchor="end" textLength="19.0" lengthAdjust="spacingAndGlyphs">30°N</text>
<text x="81.2" y="352" font-size="9.2" text-anchor="end" textLength="19.0" lengthAdjust="spacingAndGlyphs">25°N</text>
<path class="glr" d="M618.47 31.5V414.5M682.34 31.5V414.5M746.20 31.5V414.5M810.10 31.5V414.5M873.95 31.5V414.5M555.5 94.45H938.5M555.5 158.3H938.5M555.5 222.4H938.5M555.5 285.9H938.5M555.5 349.45H938.5"/>
<g clip-path="url(#cr)"><use href="#coast"/></g>
<rect class="fr" x="555.5" y="31.5" width="383.00" height="383.00"/>
<text x="618.87" y="424.9" font-size="9.2" text-anchor="middle" textLength="22.6" lengthAdjust="spacingAndGlyphs">125°E</text>
<text x="682.74" y="424.9" font-size="9.2" text-anchor="middle" textLength="22.6" lengthAdjust="spacingAndGlyphs">130°E</text>
<text x="746.6" y="424.9" font-size="9.2" text-anchor="middle" textLength="22.6" lengthAdjust="spacingAndGlyphs">135°E</text>
<text x="810.5" y="424.9" font-size="9.2" text-anchor="middle" textLength="22.6" lengthAdjust="spacingAndGlyphs">140°E</text>
<text x="874.35" y="424.9" font-size="9.2" text-anchor="middle" textLength="22.6" lengthAdjust="spacingAndGlyphs">145°E</text>
<text x="550.2" y="97" font-size="9.2" text-anchor="end" textLength="19.0" lengthAdjust="spacingAndGlyphs">45°N</text>
<text x="550.2" y="160" font-size="9.2" text-anchor="end" textLength="19.0" lengthAdjust="spacingAndGlyphs">40°N</text>
<text x="550.2" y="225" font-size="9.2" text-anchor="end" textLength="19.0" lengthAdjust="spacingAndGlyphs">35°N</text>
<text x="550.2" y="288" font-size="9.2" text-anchor="end" textLength="19.0" lengthAdjust="spacingAndGlyphs">30°N</text>
<text x="550.2" y="352" font-size="9.2" text-anchor="end" textLength="19.0" lengthAdjust="spacingAndGlyphs">25°N</text>
<rect x="810.5" y="271.5" width="105.0" height="104.0" fill="#fff"/>
<path d="M810.50 375.50L810.50 369.05L811.76 368.64L812.60 369.78L813.65 369.05L814.91 369.78L815.75 370.82L816.59 371.76L817.43 372.80L818.27 374.04L819.42 374.67L819.42 375.50Z" fill="#000"/>
<circle cx="821.00" cy="374.25" r="0.8" fill="#000"/>
<circle cx="823.62" cy="374.04" r="0.8" fill="#000"/>
<circle cx="828.35" cy="374.67" r="0.8" fill="#000"/>
<circle cx="833.08" cy="374.46" r="0.8" fill="#000"/>
<path d="M810.5 375.5L915.5 271.5" stroke="#000" stroke-width="1.3" fill="none"/>
<path d="M810.50 375.5v3.6M810.5 375.50h-3.6M815.75 375.5v2.2M810.5 370.30h-2.2M821.00 375.5v2.2M810.5 365.10h-2.2M826.25 375.5v2.2M810.5 359.90h-2.2M831.50 375.5v3.6M810.5 354.70h-3.6M836.75 375.5v2.2M810.5 349.50h-2.2M842.00 375.5v2.2M810.5 344.30h-2.2M847.25 375.5v2.2M810.5 339.10h-2.2M852.50 375.5v3.6M810.5 333.90h-3.6M857.75 375.5v2.2M810.5 328.70h-2.2M863.00 375.5v2.2M810.5 323.50h-2.2M868.25 375.5v2.2M810.5 318.30h-2.2M873.50 375.5v3.6M810.5 313.10h-3.6M878.75 375.5v2.2M810.5 307.90h-2.2M884.00 375.5v2.2M810.5 302.70h-2.2M889.25 375.5v2.2M810.5 297.50h-2.2M894.50 375.5v3.6M810.5 292.30h-3.6M899.75 375.5v2.2M810.5 287.10h-2.2M905.00 375.5v2.2M810.5 281.90h-2.2M910.25 375.5v2.2M810.5 276.70h-2.2M915.50 375.5v3.6M810.5 271.50h-3.6" stroke="#000" stroke-width=".8" fill="none"/>
<rect x="810.5" y="271.5" width="105.0" height="104.0" fill="none" stroke="#000" stroke-width=".9"/>
<text x="810.5" y="388.8" font-size="9.2" text-anchor="middle" textLength="4.9" lengthAdjust="spacingAndGlyphs">0</text>
<text x="803.6" y="378.9" font-size="9.2" text-anchor="end" textLength="4.9" lengthAdjust="spacingAndGlyphs">0</text>
<text x="831.5" y="388.8" font-size="9.2" text-anchor="middle" textLength="4.9" lengthAdjust="spacingAndGlyphs">2</text>
<text x="803.6" y="358.1" font-size="9.2" text-anchor="end" textLength="4.9" lengthAdjust="spacingAndGlyphs">2</text>
<text x="852.5" y="388.8" font-size="9.2" text-anchor="middle" textLength="4.9" lengthAdjust="spacingAndGlyphs">4</text>
<text x="803.6" y="337.3" font-size="9.2" text-anchor="end" textLength="4.9" lengthAdjust="spacingAndGlyphs">4</text>
<text x="873.5" y="388.8" font-size="9.2" text-anchor="middle" textLength="4.9" lengthAdjust="spacingAndGlyphs">6</text>
<text x="803.6" y="316.5" font-size="9.2" text-anchor="end" textLength="4.9" lengthAdjust="spacingAndGlyphs">6</text>
<text x="894.5" y="388.8" font-size="9.2" text-anchor="middle" textLength="4.9" lengthAdjust="spacingAndGlyphs">8</text>
<text x="803.6" y="295.7" font-size="9.2" text-anchor="end" textLength="4.9" lengthAdjust="spacingAndGlyphs">8</text>
<text x="915.5" y="388.8" font-size="9.2" text-anchor="middle" textLength="9.8" lengthAdjust="spacingAndGlyphs">10</text>
<text x="803.6" y="274.9" font-size="9.2" text-anchor="end" textLength="9.8" lengthAdjust="spacingAndGlyphs">10</text>
<text x="861.3" y="398.8" font-size="10" text-anchor="middle">ANALYSIS</text>
<text font-size="10" text-anchor="middle" transform="translate(791.2 323.5) rotate(-90)">GSMAP_NRT_1HR</text>
<text x="561.5" y="406.6" font-size="10" text-anchor="start">Provided by JWA/JMA</text>
<text x="141.0" y="25.6" font-size="12" text-anchor="start" textLength="271.2" lengthAdjust="spacingAndGlyphs">GSMAP_NRT_1HR estimates for 20251121 18</text>
<text x="600.7" y="25.6" font-size="12" text-anchor="start" textLength="290.8" lengthAdjust="spacingAndGlyphs">Hourly Radar-AMeDAS analysis for 20251121 18</text>
<rect x="972.2" y="376.95" width="21.40" height="36.75" fill="#ffe6b9"/>
<rect x="972.2" y="340.50" width="21.40" height="36.75" fill="#dcfcc8"/>
<rect x="972.2" y="304.05" width="21.40" height="36.75" fill="#96fc96"/>
<rect x="972.2" y="267.60" width="21.40" height="36.75" fill="#64fcfc"/>
<rect x="972.2" y="231.15" width="21.40" height="36.75" fill="#00c8fc"/>
<rect x="972.2" y="194.70" width="21.40" height="36.75" fill="#0064fc"/>
<rect x="972.2" y="158.25" width="21.40" height="36.75" fill="#9664fc"/>
<rect x="972.2" y="121.80" width="21.40" height="36.75" fill="#dc64fc"/>
<rect x="972.2" y="85.35" width="21.40" height="36.75" fill="#fc00fc"/>
<rect x="972.2" y="48.90" width="21.40" height="36.75" fill="#d2a046"/>
<path d="M972.2 48.9L982.90 30.6L993.6 48.9Z" fill="#000"/>
<path class="th" d="M972.2 413.4L972.2 48.9L982.90 30.6L993.6 48.9L993.6 413.4Z" style="stroke-width:.8"/>
<path class="th" d="M993.6 413.40h3.6" style="stroke-width:.8"/>
<text x="1001.2" y="418.4" font-size="12" text-anchor="start" textLength="7.13" lengthAdjust="spacingAndGlyphs">0</text>
<path class="th" d="M993.6 376.95h3.6" style="stroke-width:.8"/>
<text x="1001.2" y="381.95" font-size="12" text-anchor="start" textLength="24.96" lengthAdjust="spacingAndGlyphs">0.01</text>
<path class="th" d="M993.6 340.50h3.6" style="stroke-width:.8"/>
<text x="1001.2" y="345.5" font-size="12" text-anchor="start" textLength="17.84" lengthAdjust="spacingAndGlyphs">0.5</text>
<path class="th" d="M993.6 304.05h3.6" style="stroke-width:.8"/>
<text x="1001.2" y="309.05" font-size="12" text-anchor="start" textLength="7.13" lengthAdjust="spacingAndGlyphs">1</text>
<path class="th" d="M993.6 267.60h3.6" style="stroke-width:.8"/>
<text x="1001.2" y="272.6" font-size="12" text-anchor="start" textLength="7.13" lengthAdjust="spacingAndGlyphs">2</text>
<path class="th" d="M993.6 231.15h3.6" style="stroke-width:.8"/>
<text x="1001.2" y="236.15" font-size="12" text-anchor="start" textLength="7.13" lengthAdjust="spacingAndGlyphs">3</text>
<path class="th" d="M993.6 194.70h3.6" style="stroke-width:.8"/>
<text x="1001.2" y="199.7" font-size="12" text-anchor="start" textLength="7.13" lengthAdjust="spacingAndGlyphs">4</text>
<path class="th" d="M993.6 158.25h3.6" style="stroke-width:.8"/>
<text x="1001.2" y="163.25" font-size="12" text-anchor="start" textLength="7.13" lengthAdjust="spacingAndGlyphs">5</text>
<path class="th" d="M993.6 121.80h3.6" style="stroke-width:.8"/>
<text x="1001.2" y="126.8" font-size="12" text-anchor="start" textLength="14.28" lengthAdjust="spacingAndGlyphs">10</text>
<path class="th" d="M993.6 85.35h3.6" style="stroke-width:.8"/>
<text x="1001.2" y="90.35" font-size="12" text-anchor="start" textLength="14.28" lengthAdjust="spacingAndGlyphs">25</text>
<path class="th" d="M993.6 48.90h3.6" style="stroke-width:.8"/>
<text x="1001.2" y="53.9" font-size="12" text-anchor="start" textLength="14.28" lengthAdjust="spacingAndGlyphs">50</text>
<text x="140" y="446.8" font-size="10" text-anchor="middle">Hourly fraction by occurence</text>
<rect x="74.5" y="452.6" width="123.80" height="17.70" fill="#ffe6b9" stroke="#000" stroke-width=".6"/>
<rect x="198.3" y="452.6" width="8.90" height="17.70" fill="#dcfcc8" stroke="#000" stroke-width=".6"/>
<rect x="74.5" y="479.6" width="108.00" height="17.90" fill="#ffe6b9" stroke="#000" stroke-width=".6"/>
<rect x="182.5" y="479.6" width="22.80" height="17.90" fill="#dcfcc8" stroke="#000" stroke-width=".6"/>
<rect x="205.3" y="479.6" width="0.70" height="17.90" fill="#96fc96" stroke="#000" stroke-width=".6"/>
<rect x="206.0" y="479.6" width="0.50" height="17.90" fill="#64fcfc" stroke="#000" stroke-width=".6"/>
<rect x="206.5" y="479.6" width="0.70" height="17.90" fill="#00c8fc" stroke="#000" stroke-width=".6"/>
<path class="th" d="M74.5 452.6V497.5M207.2 452.6V497.5M198.3 470.3L182.5 479.6M207.2 470.3L205.3 479.6M207.2 470.3L206 479.6M207.2 470.3L206.5 479.6"/>
<text x="47.6" y="465.9" font-size="10" text-anchor="start" textLength="14.6" lengthAdjust="spacingAndGlyphs">Est</text>
<text x="47.6" y="492.9" font-size="10" text-anchor="start" textLength="18.6" lengthAdjust="spacingAndGlyphs">Obs</text>
<text x="58.3" y="509.6" font-size="10" text-anchor="start">0%</text>
<text x="135.6" y="509.6" font-size="10" text-anchor="middle">Areal fraction</text>
<text x="195" y="509.6" font-size="10" text-anchor="start">100%</text>
<text x="139.8" y="527.9" font-size="10" text-anchor="middle">Hourly fraction of total rain</text>
<rect x="74.5" y="533.4" width="3.80" height="17.40" fill="#ffe6b9" stroke="#000" stroke-width=".6"/>
<rect x="78.3" y="533.4" width="22.00" height="17.40" fill="#dcfcc8" stroke="#000" stroke-width=".6"/>
<rect x="74.5" y="560.4" width="3.80" height="17.90" fill="#ffe6b9" stroke="#000" stroke-width=".6"/>
<rect x="78.3" y="560.4" width="96.20" height="17.90" fill="#dcfcc8" stroke="#000" stroke-width=".6"/>
<rect x="174.5" y="560.4" width="17.70" height="17.90" fill="#96fc96" stroke="#000" stroke-width=".6"/>
<rect x="192.2" y="560.4" width="9.10" height="17.90" fill="#64fcfc" stroke="#000" stroke-width=".6"/>
<rect x="201.3" y="560.4" width="5.90" height="17.90" fill="#00c8fc" stroke="#000" stroke-width=".6"/>
<path class="th" d="M74.5 533.4V578.3M78.3 550.8L78.3 560.4M100.3 550.8L174.5 560.4M100.3 550.8L192.2 560.4M100.3 550.8L201.3 560.4M100.3 550.8L207.2 560.4M100.3 550.8L207.2 560.4"/>
<path d="M100.3 550.4L207.2 559.8L207.2 560.6999999999999L192 560.4Z" fill="#000"/>
<text x="47.6" y="546.7" font-size="10" text-anchor="start" textLength="14.6" lengthAdjust="spacingAndGlyphs">Est</text>
<text x="47.6" y="573.6" font-size="10" text-anchor="start" textLength="18.6" lengthAdjust="spacingAndGlyphs">Obs</text>
<text x="140.7" y="590.1" font-size="10" text-anchor="middle">Rainfall accumulation by amount</text>
<path class="fr" d="M277.5 478.5H401.5V573.5H277.5ZM339.5 478.5V573.5M277.5 526.3H401.5"/>
<text x="339" y="455.1" font-size="10" text-anchor="middle">GSMAP_NRT_1HR</text>
<text x="308.2" y="470.2" font-size="10" text-anchor="middle">&lt;0.01</text>
<text x="370" y="470.2" font-size="10" text-anchor="middle">≥0.01</text>
<text x="308" y="506.0" font-size="10" text-anchor="middle">3049</text>
<text x="370.8" y="506.0" font-size="10" text-anchor="middle">0</text>
<text x="308" y="553.0" font-size="10" text-anchor="middle">8</text>
<text x="370.8" y="553.0" font-size="10" text-anchor="middle">0</text>
<text x="275" y="506.0" font-size="10" text-anchor="end">&lt;0.01</text>
<text x="275" y="553.0" font-size="10" text-anchor="end">≥0.01</text>
<text font-size="10" text-anchor="middle" transform="translate(246.3 520.5) rotate(-90)">ANALYSIS</text>
<text x="460.2" y="453.8" font-size="10" text-anchor="start" textLength="394" lengthAdjust="spacingAndGlyphs" xml:space="preserve">Validation statistics for 20251121 18  n=3057 Valid. grid=0.25° Units=mm/hr.</text>
<path d="M458 457.4H996" stroke="#000" stroke-width=".9" stroke-dasharray="3.4 1.1" fill="none"/>
<path d="M458 480.4H758" stroke="#000" stroke-width=".9" stroke-dasharray="3.4 1.1" fill="none"/>
<text x="632.5" y="474.6" font-size="10" text-anchor="middle">ANALYSIS</text>
<text x="713.5" y="474.6" font-size="10" text-anchor="middle">GSMAP_NRT_1HR</text>
<text x="460" y="498.6" font-size="10" text-anchor="start">Num of gridpoints raining</text>
<text x="649" y="498.6" font-size="10" text-anchor="end">8</text>
<text x="729.5" y="498.6" font-size="10" text-anchor="end">0</text>
<text x="460" y="518.8" font-size="10" text-anchor="start">Average rain</text>
<text x="649" y="518.8" font-size="10" text-anchor="end">0.0</text>
<text x="729.5" y="518.8" font-size="10" text-anchor="end">0.0</text>
<text x="460" y="538.6" font-size="10" text-anchor="start">Conditional rain</text>
<text x="649" y="538.6" font-size="10" text-anchor="end">12.7</text>
<text x="729.5" y="538.6" font-size="10" text-anchor="end">-999.0</text>
<text x="461" y="558.5" font-size="10">Rain volume (mm km<tspan font-size="7" dy="-3.6">2</tspan><tspan dy="3.6">10</tspan><tspan font-size="7" dy="-3.6">6</tspan><tspan dy="3.6">)</tspan></text>
<text x="649" y="557.9" font-size="10" text-anchor="end">0.1</text>
<text x="729.5" y="557.9" font-size="10" text-anchor="end">0.0</text>
<text x="460" y="577.8" font-size="10" text-anchor="start">Maximum rain</text>
<text x="649" y="577.8" font-size="10" text-anchor="end">2.1</text>
<text x="729.5" y="577.8" font-size="10" text-anchor="end">0.5</text>
<text x="784.2" y="472.2" font-size="10" text-anchor="start" xml:space="preserve">Mean abs error =    0.0</text>
<text x="784.2" y="489.2" font-size="10" text-anchor="start" xml:space="preserve">RMS error =    0.1</text>
<text x="784.2" y="506.2" font-size="10" text-anchor="start" xml:space="preserve">Correlation coeff =  0.197</text>
<text x="784.2" y="523.2" font-size="10" text-anchor="start" xml:space="preserve">Frequency bias =  0.000</text>
<text x="784.2" y="540.2" font-size="10" text-anchor="start" xml:space="preserve">Probability of detection =  0.000</text>
<text x="784.2" y="557.2" font-size="10" text-anchor="start" xml:space="preserve">False alarm ratio = -999.000</text>
<text x="784.2" y="574.2" font-size="10" text-anchor="start" xml:space="preserve">Hanssen &amp; Kuipers score =  0.000</text>
<text x="784.2" y="591.2" font-size="10" text-anchor="start" xml:space="preserve">Equitable threat score =  0.000</text>
</svg></body></html>
